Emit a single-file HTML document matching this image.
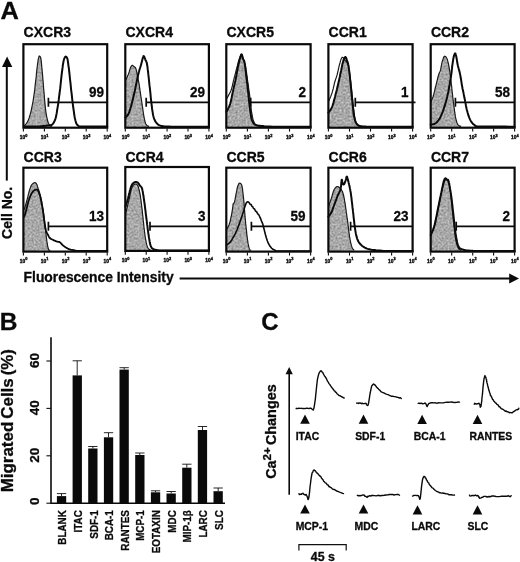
<!DOCTYPE html>
<html><head><meta charset="utf-8"><title>Figure</title>
<style>
html,body{margin:0;padding:0;background:#fff;}
body{width:520px;height:562px;overflow:hidden;}
svg{display:block;will-change:transform;font-family:"Liberation Sans", sans-serif;fill:#0a0a0a;}
text{stroke:#0a0a0a;stroke-width:0.3px;stroke-linejoin:round;}
</style></head>
<body>
<svg width="520" height="562" viewBox="0 0 520 562">
<defs>
<filter id="nz" filterUnits="userSpaceOnUse" x="0" y="0" width="520" height="300" color-interpolation-filters="sRGB">
<feTurbulence type="fractalNoise" baseFrequency="0.5" numOctaves="2" seed="11" result="t"/>
<feColorMatrix in="t" type="matrix" values="0.44 0 0 0 0.44  0.44 0 0 0 0.44  0.44 0 0 0 0.44  0 0 0 0 1" result="g"/>
<feComposite in="g" in2="SourceGraphic" operator="in"/>
</filter>
</defs>
<rect width="520" height="562" fill="#fff"/>
<g id="panelA">
<path d="M24.3 126.0 L24.7 125.5 L25.2 124.8 L25.9 124.1 L26.6 123.2 L27.2 122.2 L27.8 121.1 L28.3 120.0 L28.8 118.8 L29.3 117.4 L29.7 116.0 L30.2 114.4 L30.7 112.6 L31.2 110.6 L31.6 108.4 L32.1 106.0 L32.6 103.5 L33.1 101.0 L33.5 98.4 L33.9 95.7 L34.3 92.8 L34.7 89.9 L35.0 87.0 L35.3 84.1 L35.6 81.3 L36.0 78.5 L36.3 75.7 L36.5 72.9 L36.8 70.3 L37.1 67.8 L37.4 65.6 L37.6 63.7 L37.9 62.0 L38.1 60.4 L38.3 59.1 L38.6 58.0 L38.8 57.1 L39.0 56.5 L39.2 56.1 L39.4 56.0 L39.5 56.0 L39.7 56.2 L39.9 56.4 L40.1 56.6 L40.3 56.9 L40.5 57.2 L40.7 57.8 L40.8 58.7 L41.1 60.0 L41.3 61.7 L41.5 63.8 L41.7 66.2 L42.0 68.8 L42.2 71.5 L42.5 74.2 L42.7 76.8 L42.9 79.6 L43.2 82.5 L43.4 85.4 L43.6 88.3 L43.9 91.3 L44.2 94.3 L44.4 97.6 L44.7 100.9 L45.0 104.1 L45.3 107.1 L45.6 109.7 L45.9 112.1 L46.3 114.3 L46.6 116.3 L47.0 118.1 L47.4 119.7 L47.7 121.1 L48.1 122.3 L48.4 123.2 L48.8 123.9 L49.2 124.5 L49.5 125.0 L49.9 125.4 L50.3 125.7 L50.7 126.0 L51.1 126.1 L51.5 126.1 L51.8 126.2 L52.0 126.2 L52.0 127.7 L23.4 127.7 Z" fill="#aeaeae" stroke="none" filter="url(#nz)"/>
<path d="M24.3 126.0 L24.7 125.5 L25.2 124.8 L25.9 124.1 L26.6 123.2 L27.2 122.2 L27.8 121.1 L28.3 120.0 L28.8 118.8 L29.3 117.4 L29.7 116.0 L30.2 114.4 L30.7 112.6 L31.2 110.6 L31.6 108.4 L32.1 106.0 L32.6 103.5 L33.1 101.0 L33.5 98.4 L33.9 95.7 L34.3 92.8 L34.7 89.9 L35.0 87.0 L35.3 84.1 L35.6 81.3 L36.0 78.5 L36.3 75.7 L36.5 72.9 L36.8 70.3 L37.1 67.8 L37.4 65.6 L37.6 63.7 L37.9 62.0 L38.1 60.4 L38.3 59.1 L38.6 58.0 L38.8 57.1 L39.0 56.5 L39.2 56.1 L39.4 56.0 L39.5 56.0 L39.7 56.2 L39.9 56.4 L40.1 56.6 L40.3 56.9 L40.5 57.2 L40.7 57.8 L40.8 58.7 L41.1 60.0 L41.3 61.7 L41.5 63.8 L41.7 66.2 L42.0 68.8 L42.2 71.5 L42.5 74.2 L42.7 76.8 L42.9 79.6 L43.2 82.5 L43.4 85.4 L43.6 88.3 L43.9 91.3 L44.2 94.3 L44.4 97.6 L44.7 100.9 L45.0 104.1 L45.3 107.1 L45.6 109.7 L45.9 112.1 L46.3 114.3 L46.6 116.3 L47.0 118.1 L47.4 119.7 L47.7 121.1 L48.1 122.3 L48.4 123.2 L48.8 123.9 L49.2 124.5 L49.5 125.0 L49.9 125.4 L50.3 125.7 L50.7 126.0 L51.1 126.1 L51.5 126.1 L51.8 126.2 L52.0 126.2" fill="none" stroke="#1a1a1a" stroke-width="1.2" stroke-linejoin="round"/>
<path d="M24.3 126.5 L25.7 126.5 L27.6 126.6 L29.9 126.6 L32.4 126.6 L34.8 126.6 L37.1 126.5 L39.2 126.4 L41.5 126.2 L43.7 126.0 L45.8 125.8 L47.6 125.6 L49.2 125.4 L50.3 125.2 L51.0 125.1 L51.5 125.0 L51.9 124.8 L52.3 124.5 L52.7 124.0 L53.2 123.3 L53.7 122.6 L54.2 121.7 L54.7 120.8 L55.1 119.6 L55.6 118.3 L56.0 116.8 L56.3 115.1 L56.7 113.2 L57.0 111.2 L57.3 109.1 L57.7 106.9 L58.1 104.6 L58.4 102.1 L58.8 99.4 L59.1 96.7 L59.5 94.0 L59.8 91.3 L60.2 88.4 L60.5 85.5 L60.8 82.5 L61.1 79.6 L61.4 76.8 L61.7 74.2 L62.0 71.8 L62.3 69.5 L62.6 67.4 L62.8 65.4 L63.1 63.6 L63.4 62.1 L63.6 60.8 L63.9 59.8 L64.1 59.0 L64.3 58.4 L64.6 57.9 L64.8 57.4 L65.0 57.0 L65.3 56.8 L65.5 56.6 L65.8 56.6 L66.0 56.7 L66.2 56.8 L66.5 57.0 L66.7 57.2 L66.9 57.5 L67.1 58.0 L67.4 58.8 L67.7 60.0 L67.9 61.6 L68.2 63.7 L68.5 66.1 L68.9 68.7 L69.2 71.4 L69.5 74.2 L69.8 77.0 L70.1 80.0 L70.5 83.2 L70.8 86.4 L71.1 89.5 L71.5 92.7 L71.9 95.8 L72.2 99.1 L72.6 102.4 L73.0 105.6 L73.4 108.5 L73.8 111.2 L74.1 113.5 L74.4 115.6 L74.7 117.4 L75.1 119.1 L75.4 120.5 L75.8 121.8 L76.1 122.9 L76.5 123.7 L76.9 124.4 L77.3 124.9 L77.8 125.3 L78.3 125.7 L78.7 126.0 L78.8 126.2 L79.0 126.3 L79.5 126.4 L80.6 126.5 L82.6 126.5 L85.9 126.6 L90.5 126.6 L95.7 126.6 L100.8 126.6 L105.2 126.5 L107.3 126.5" fill="none" stroke="#0a0a0a" stroke-width="2.0" stroke-linejoin="round" stroke-linecap="round"/>
<path d="M48.4 97.8 V106.8 M48.4 102.3 H107.3" stroke="#0a0a0a" stroke-width="1.7" fill="none"/>
<rect x="23.40" y="44.20" width="83.80" height="83.50" fill="none" stroke="#0a0a0a" stroke-width="2.2"/>
<path d="M23.4 128.6 v3.0" stroke="#0a0a0a" stroke-width="1.1"/>
<text x="23.6" y="139.0" text-anchor="middle" font-size="4.9" font-weight="bold" style="stroke-width:0.35px">10<tspan dy="-2.5" font-size="3.9">0</tspan></text>
<path d="M44.4 128.6 v3.0" stroke="#0a0a0a" stroke-width="1.1"/>
<text x="44.6" y="139.0" text-anchor="middle" font-size="4.9" font-weight="bold" style="stroke-width:0.35px">10<tspan dy="-2.5" font-size="3.9">1</tspan></text>
<path d="M65.3 128.6 v3.0" stroke="#0a0a0a" stroke-width="1.1"/>
<text x="65.5" y="139.0" text-anchor="middle" font-size="4.9" font-weight="bold" style="stroke-width:0.35px">10<tspan dy="-2.5" font-size="3.9">2</tspan></text>
<path d="M86.2 128.6 v3.0" stroke="#0a0a0a" stroke-width="1.1"/>
<text x="86.5" y="139.0" text-anchor="middle" font-size="4.9" font-weight="bold" style="stroke-width:0.35px">10<tspan dy="-2.5" font-size="3.9">3</tspan></text>
<path d="M107.2 128.6 v3.0" stroke="#0a0a0a" stroke-width="1.1"/>
<text x="107.4" y="139.0" text-anchor="middle" font-size="4.9" font-weight="bold" style="stroke-width:0.35px">10<tspan dy="-2.5" font-size="3.9">4</tspan></text>
<text transform="translate(104.0 97.0) scale(0.925 1)" text-anchor="end" font-size="14.6" font-weight="bold">99</text>
<text x="23.6" y="37.4" font-size="14" font-weight="bold">CXCR3</text>
<path d="M125.4 80.6 L125.7 79.9 L126.2 78.9 L126.8 77.8 L127.4 76.6 L127.9 75.3 L128.4 74.2 L128.8 73.1 L129.2 71.9 L129.5 70.7 L129.9 69.6 L130.2 68.6 L130.5 67.8 L130.8 67.1 L131.1 66.5 L131.4 66.1 L131.7 65.7 L132.0 65.5 L132.2 65.4 L132.5 65.4 L132.9 65.6 L133.2 65.9 L133.5 66.2 L133.8 66.5 L134.1 66.8 L134.4 66.9 L134.6 67.0 L134.8 67.1 L135.1 67.2 L135.3 67.4 L135.5 67.8 L135.7 68.3 L136.0 68.9 L136.2 69.6 L136.4 70.5 L136.7 71.5 L136.9 72.8 L137.3 74.3 L137.6 76.0 L138.0 77.9 L138.3 79.9 L138.7 82.0 L139.1 84.1 L139.4 86.3 L139.8 88.7 L140.1 91.1 L140.5 93.5 L140.8 96.0 L141.2 98.4 L141.6 100.8 L141.9 103.3 L142.3 105.8 L142.7 108.2 L143.0 110.5 L143.3 112.6 L143.6 114.5 L143.9 116.3 L144.2 117.9 L144.5 119.4 L144.8 120.7 L145.0 121.8 L145.3 122.8 L145.6 123.5 L145.9 124.1 L146.3 124.6 L146.6 125.0 L146.9 125.4 L147.3 125.7 L147.7 125.9 L148.1 126.1 L148.5 126.2 L148.8 126.3 L149.0 126.4 L149.0 127.7 L125.3 127.7 Z" fill="#aeaeae" stroke="none" filter="url(#nz)"/>
<path d="M125.4 80.6 L125.7 79.9 L126.2 78.9 L126.8 77.8 L127.4 76.6 L127.9 75.3 L128.4 74.2 L128.8 73.1 L129.2 71.9 L129.5 70.7 L129.9 69.6 L130.2 68.6 L130.5 67.8 L130.8 67.1 L131.1 66.5 L131.4 66.1 L131.7 65.7 L132.0 65.5 L132.2 65.4 L132.5 65.4 L132.9 65.6 L133.2 65.9 L133.5 66.2 L133.8 66.5 L134.1 66.8 L134.4 66.9 L134.6 67.0 L134.8 67.1 L135.1 67.2 L135.3 67.4 L135.5 67.8 L135.7 68.3 L136.0 68.9 L136.2 69.6 L136.4 70.5 L136.7 71.5 L136.9 72.8 L137.3 74.3 L137.6 76.0 L138.0 77.9 L138.3 79.9 L138.7 82.0 L139.1 84.1 L139.4 86.3 L139.8 88.7 L140.1 91.1 L140.5 93.5 L140.8 96.0 L141.2 98.4 L141.6 100.8 L141.9 103.3 L142.3 105.8 L142.7 108.2 L143.0 110.5 L143.3 112.6 L143.6 114.5 L143.9 116.3 L144.2 117.9 L144.5 119.4 L144.8 120.7 L145.0 121.8 L145.3 122.8 L145.6 123.5 L145.9 124.1 L146.3 124.6 L146.6 125.0 L146.9 125.4 L147.3 125.7 L147.7 125.9 L148.1 126.1 L148.5 126.2 L148.8 126.3 L149.0 126.4" fill="none" stroke="#1a1a1a" stroke-width="1.2" stroke-linejoin="round"/>
<path d="M125.4 117.6 L125.7 117.2 L126.2 116.8 L126.7 116.3 L127.3 115.7 L127.9 114.9 L128.4 114.0 L128.9 112.9 L129.4 111.6 L129.8 110.2 L130.3 108.7 L130.8 107.1 L131.2 105.5 L131.7 103.8 L132.2 102.0 L132.7 100.1 L133.1 98.2 L133.6 96.1 L134.1 94.1 L134.6 91.9 L135.1 89.6 L135.6 87.2 L136.0 84.9 L136.5 82.6 L136.9 80.6 L137.3 78.8 L137.7 77.1 L138.0 75.6 L138.4 74.1 L138.7 72.7 L139.1 71.3 L139.4 70.0 L139.8 68.8 L140.2 67.6 L140.5 66.5 L140.9 65.4 L141.2 64.2 L141.5 63.0 L141.9 61.6 L142.2 60.3 L142.5 59.0 L142.8 57.9 L143.1 57.1 L143.3 56.6 L143.4 56.2 L143.6 56.1 L143.7 56.1 L143.9 56.2 L144.0 56.4 L144.3 56.7 L144.5 57.3 L144.7 57.9 L145.0 58.6 L145.2 59.3 L145.5 60.0 L145.7 60.5 L145.9 60.9 L146.2 61.3 L146.4 61.8 L146.7 62.5 L146.9 63.5 L147.1 64.8 L147.4 66.3 L147.6 68.0 L147.8 69.9 L148.1 72.0 L148.3 74.2 L148.6 76.7 L148.9 79.5 L149.2 82.4 L149.5 85.4 L149.9 88.4 L150.2 91.3 L150.5 94.0 L150.7 96.8 L151.0 99.5 L151.3 102.2 L151.6 104.6 L151.9 106.9 L152.1 108.9 L152.4 110.8 L152.7 112.5 L152.9 114.1 L153.2 115.5 L153.6 116.9 L153.9 118.1 L154.3 119.2 L154.7 120.1 L155.2 121.0 L155.6 121.8 L156.1 122.5 L156.7 123.2 L157.2 123.8 L157.8 124.3 L158.4 124.7 L159.0 125.1 L159.7 125.4 L160.4 125.7 L161.2 125.9 L162.0 126.0 L162.8 126.2 L163.7 126.3 L164.7 126.4 L165.4 126.5 L165.7 126.5 L166.1 126.6 L167.0 126.6 L168.8 126.6 L171.8 126.7 L176.8 126.7 L183.7 126.7 L191.4 126.7 L199.1 126.7 L205.7 126.7 L209.0 126.7" fill="none" stroke="#0a0a0a" stroke-width="2.0" stroke-linejoin="round" stroke-linecap="round"/>
<path d="M146.2 97.8 V106.8 M146.2 102.3 H209.0" stroke="#0a0a0a" stroke-width="1.7" fill="none"/>
<rect x="125.30" y="44.20" width="83.60" height="83.50" fill="none" stroke="#0a0a0a" stroke-width="2.2"/>
<path d="M125.3 128.6 v3.0" stroke="#0a0a0a" stroke-width="1.1"/>
<text x="125.5" y="139.0" text-anchor="middle" font-size="4.9" font-weight="bold" style="stroke-width:0.35px">10<tspan dy="-2.5" font-size="3.9">0</tspan></text>
<path d="M146.2 128.6 v3.0" stroke="#0a0a0a" stroke-width="1.1"/>
<text x="146.4" y="139.0" text-anchor="middle" font-size="4.9" font-weight="bold" style="stroke-width:0.35px">10<tspan dy="-2.5" font-size="3.9">1</tspan></text>
<path d="M167.1 128.6 v3.0" stroke="#0a0a0a" stroke-width="1.1"/>
<text x="167.3" y="139.0" text-anchor="middle" font-size="4.9" font-weight="bold" style="stroke-width:0.35px">10<tspan dy="-2.5" font-size="3.9">2</tspan></text>
<path d="M188.0 128.6 v3.0" stroke="#0a0a0a" stroke-width="1.1"/>
<text x="188.2" y="139.0" text-anchor="middle" font-size="4.9" font-weight="bold" style="stroke-width:0.35px">10<tspan dy="-2.5" font-size="3.9">3</tspan></text>
<path d="M208.9 128.6 v3.0" stroke="#0a0a0a" stroke-width="1.1"/>
<text x="209.1" y="139.0" text-anchor="middle" font-size="4.9" font-weight="bold" style="stroke-width:0.35px">10<tspan dy="-2.5" font-size="3.9">4</tspan></text>
<text transform="translate(205.0 97.0) scale(0.925 1)" text-anchor="end" font-size="14.6" font-weight="bold">29</text>
<text x="125.5" y="37.4" font-size="14" font-weight="bold">CXCR4</text>
<path d="M226.4 111.9 L226.8 111.1 L227.4 110.0 L228.1 108.8 L228.8 107.3 L229.5 105.7 L230.1 104.1 L230.6 102.2 L231.1 100.2 L231.6 98.0 L232.0 95.7 L232.5 93.4 L233.0 91.3 L233.4 89.1 L233.9 86.9 L234.4 84.8 L234.9 82.6 L235.4 80.5 L235.8 78.4 L236.2 76.4 L236.6 74.4 L236.9 72.4 L237.3 70.5 L237.6 68.7 L237.9 67.1 L238.3 65.5 L238.6 64.1 L238.9 62.8 L239.2 61.5 L239.5 60.3 L239.8 59.2 L240.1 58.1 L240.4 57.0 L240.7 56.0 L240.9 55.1 L241.2 54.5 L241.5 54.3 L241.7 54.4 L242.0 55.0 L242.2 55.8 L242.4 56.8 L242.7 57.7 L242.9 58.5 L243.2 59.2 L243.5 59.7 L243.8 60.2 L244.1 60.9 L244.4 61.7 L244.6 62.8 L244.9 64.2 L245.1 65.9 L245.3 67.8 L245.5 69.8 L245.8 72.0 L246.0 74.2 L246.3 76.5 L246.6 79.0 L246.9 81.7 L247.3 84.4 L247.6 87.1 L247.9 89.8 L248.2 92.7 L248.5 95.6 L248.8 98.6 L249.1 101.6 L249.4 104.4 L249.7 106.9 L250.0 109.2 L250.3 111.4 L250.6 113.3 L250.9 115.2 L251.1 116.8 L251.4 118.3 L251.8 119.5 L252.1 120.5 L252.4 121.3 L252.8 122.0 L253.1 122.7 L253.6 123.3 L254.0 123.8 L254.5 124.2 L255.0 124.6 L255.5 124.9 L256.2 125.1 L257.1 125.4 L258.3 125.6 L259.7 125.8 L261.2 126.0 L262.8 126.1 L264.3 126.3 L265.7 126.4 L266.6 126.5 L267.0 126.5 L267.4 126.6 L268.2 126.6 L269.8 126.6 L272.8 126.7 L277.8 126.7 L284.7 126.7 L292.4 126.7 L300.1 126.7 L306.7 126.7 L310.7 126.7 L310.7 127.7 L226.3 127.7 Z" fill="#aeaeae" stroke="none" filter="url(#nz)"/>
<path d="M226.4 99.1 L226.9 98.2 L227.7 96.9 L228.5 95.4 L229.4 93.8 L230.3 92.1 L231.0 90.5 L231.5 88.9 L232.0 87.1 L232.5 85.3 L232.8 83.6 L233.2 82.0 L233.5 80.6 L233.8 79.5 L234.0 78.6 L234.2 77.9 L234.4 77.2 L234.6 76.5 L234.8 75.6 L235.1 74.6 L235.4 73.4 L235.7 72.3 L236.0 71.0 L236.3 69.8 L236.7 68.5 L237.0 67.2 L237.4 65.7 L237.7 64.3 L238.1 62.8 L238.5 61.5 L238.9 60.2 L239.3 59.0 L239.8 57.7 L240.2 56.5 L240.7 55.5 L241.1 54.8 L241.5 54.6 L241.9 54.8 L242.2 55.4 L242.6 56.4 L242.9 57.6 L243.3 58.8 L243.6 60.0 L244.0 61.0 L244.3 62.1 L244.7 63.3 L245.0 64.6 L245.4 66.0 L245.8 67.8 L246.1 69.9 L246.5 72.2 L246.8 74.8 L247.2 77.4 L247.5 80.1 L247.9 82.7 L248.3 85.3 L248.6 88.0 L249.0 90.7 L249.4 93.3 L249.7 95.9 L250.0 98.4 L250.3 100.7 L250.5 102.9 L250.7 105.1 L250.9 107.2 L251.2 109.2 L251.4 111.2 L251.8 113.1 L252.1 114.9 L252.4 116.7 L252.8 118.4 L253.2 119.9 L253.6 121.1 L254.0 122.1 L254.5 123.0 L254.9 123.6 L255.4 124.1 L255.9 124.5 L256.4 125.0 L257.0 125.3 L257.7 125.6 L258.4 125.8 L259.0 126.0 L259.6 126.1 L260.0 126.2" fill="none" stroke="#1a1a1a" stroke-width="1.2" stroke-linejoin="round"/>
<path d="M226.4 111.9 L226.8 111.1 L227.4 110.0 L228.1 108.8 L228.8 107.3 L229.5 105.7 L230.1 104.1 L230.6 102.2 L231.1 100.2 L231.6 98.0 L232.0 95.7 L232.5 93.4 L233.0 91.3 L233.4 89.1 L233.9 86.9 L234.4 84.8 L234.9 82.6 L235.4 80.5 L235.8 78.4 L236.2 76.4 L236.6 74.4 L236.9 72.4 L237.3 70.5 L237.6 68.7 L237.9 67.1 L238.3 65.5 L238.6 64.1 L238.9 62.8 L239.2 61.5 L239.5 60.3 L239.8 59.2 L240.1 58.1 L240.4 57.0 L240.7 56.0 L240.9 55.1 L241.2 54.5 L241.5 54.3 L241.7 54.4 L242.0 55.0 L242.2 55.8 L242.4 56.8 L242.7 57.7 L242.9 58.5 L243.2 59.2 L243.5 59.7 L243.8 60.2 L244.1 60.9 L244.4 61.7 L244.6 62.8 L244.9 64.2 L245.1 65.9 L245.3 67.8 L245.5 69.8 L245.8 72.0 L246.0 74.2 L246.3 76.5 L246.6 79.0 L246.9 81.7 L247.3 84.4 L247.6 87.1 L247.9 89.8 L248.2 92.7 L248.5 95.6 L248.8 98.6 L249.1 101.6 L249.4 104.4 L249.7 106.9 L250.0 109.2 L250.3 111.4 L250.6 113.3 L250.9 115.2 L251.1 116.8 L251.4 118.3 L251.8 119.5 L252.1 120.5 L252.4 121.3 L252.8 122.0 L253.1 122.7 L253.6 123.3 L254.0 123.8 L254.5 124.2 L255.0 124.6 L255.5 124.9 L256.2 125.1 L257.1 125.4 L258.3 125.6 L259.7 125.8 L261.2 126.0 L262.8 126.1 L264.3 126.3 L265.7 126.4 L266.6 126.5 L267.0 126.5 L267.4 126.6 L268.2 126.6 L269.8 126.6 L272.8 126.7 L277.8 126.7 L284.7 126.7 L292.4 126.7 L300.1 126.7 L306.7 126.7 L310.7 126.7" fill="none" stroke="#0a0a0a" stroke-width="2.0" stroke-linejoin="round" stroke-linecap="round"/>
<path d="M250.7 97.8 V106.8 M250.7 102.3 H310.7" stroke="#0a0a0a" stroke-width="1.7" fill="none"/>
<rect x="226.30" y="44.20" width="84.30" height="83.50" fill="none" stroke="#0a0a0a" stroke-width="2.2"/>
<path d="M226.3 128.6 v3.0" stroke="#0a0a0a" stroke-width="1.1"/>
<text x="226.5" y="139.0" text-anchor="middle" font-size="4.9" font-weight="bold" style="stroke-width:0.35px">10<tspan dy="-2.5" font-size="3.9">0</tspan></text>
<path d="M247.4 128.6 v3.0" stroke="#0a0a0a" stroke-width="1.1"/>
<text x="247.6" y="139.0" text-anchor="middle" font-size="4.9" font-weight="bold" style="stroke-width:0.35px">10<tspan dy="-2.5" font-size="3.9">1</tspan></text>
<path d="M268.4 128.6 v3.0" stroke="#0a0a0a" stroke-width="1.1"/>
<text x="268.6" y="139.0" text-anchor="middle" font-size="4.9" font-weight="bold" style="stroke-width:0.35px">10<tspan dy="-2.5" font-size="3.9">2</tspan></text>
<path d="M289.5 128.6 v3.0" stroke="#0a0a0a" stroke-width="1.1"/>
<text x="289.7" y="139.0" text-anchor="middle" font-size="4.9" font-weight="bold" style="stroke-width:0.35px">10<tspan dy="-2.5" font-size="3.9">3</tspan></text>
<path d="M310.6 128.6 v3.0" stroke="#0a0a0a" stroke-width="1.1"/>
<text x="310.8" y="139.0" text-anchor="middle" font-size="4.9" font-weight="bold" style="stroke-width:0.35px">10<tspan dy="-2.5" font-size="3.9">4</tspan></text>
<text transform="translate(306.1 97.0) scale(0.925 1)" text-anchor="end" font-size="14.6" font-weight="bold">2</text>
<text x="226.5" y="37.4" font-size="14" font-weight="bold">CXCR5</text>
<path d="M328.4 112.6 L328.8 112.0 L329.4 111.3 L330.1 110.4 L330.8 109.3 L331.5 108.2 L332.1 106.9 L332.6 105.5 L333.1 103.9 L333.6 102.3 L334.0 100.5 L334.5 98.7 L335.0 96.9 L335.4 95.1 L335.9 93.3 L336.4 91.4 L336.9 89.5 L337.3 87.6 L337.8 85.6 L338.3 83.5 L338.8 81.3 L339.3 79.1 L339.8 76.9 L340.2 74.7 L340.6 72.8 L341.1 70.9 L341.4 69.0 L341.8 67.2 L342.1 65.6 L342.5 64.1 L342.8 62.8 L343.1 61.7 L343.3 60.9 L343.5 60.1 L343.8 59.5 L344.0 59.0 L344.2 58.5 L344.4 58.1 L344.7 57.7 L344.9 57.3 L345.2 57.1 L345.4 57.0 L345.6 57.1 L345.9 57.4 L346.1 57.9 L346.3 58.5 L346.6 59.2 L346.8 59.9 L347.0 60.7 L347.3 61.3 L347.5 62.0 L347.8 62.7 L348.0 63.5 L348.2 64.4 L348.5 65.6 L348.7 67.1 L348.9 68.9 L349.2 70.8 L349.4 72.8 L349.7 74.9 L349.9 77.0 L350.1 79.2 L350.4 81.6 L350.6 84.0 L350.8 86.4 L351.1 88.8 L351.3 91.3 L351.6 93.7 L351.8 96.1 L352.0 98.5 L352.3 100.9 L352.5 103.3 L352.7 105.5 L353.0 107.6 L353.2 109.7 L353.4 111.7 L353.6 113.5 L353.9 115.3 L354.2 116.9 L354.5 118.3 L354.8 119.5 L355.1 120.6 L355.5 121.6 L355.9 122.5 L356.3 123.3 L356.7 123.9 L357.1 124.5 L357.5 124.9 L358.0 125.2 L358.5 125.5 L359.1 125.8 L359.9 126.1 L360.8 126.2 L361.8 126.3 L362.8 126.4 L363.8 126.5 L364.8 126.5 L365.3 126.6 L365.4 126.6 L365.4 126.6 L365.9 126.7 L367.4 126.7 L370.5 126.7 L376.0 126.7 L383.6 126.7 L392.2 126.7 L400.8 126.7 L408.1 126.7 L412.7 126.7 L412.7 127.7 L328.4 127.7 Z" fill="#aeaeae" stroke="none" filter="url(#nz)"/>
<path d="M328.4 101.9 L328.8 100.9 L329.4 99.6 L330.1 98.0 L330.8 96.3 L331.5 94.4 L332.1 92.7 L332.6 90.8 L333.2 88.9 L333.6 86.8 L334.1 84.8 L334.5 82.9 L335.0 81.3 L335.4 80.0 L335.7 78.9 L336.1 78.0 L336.4 77.1 L336.7 76.1 L337.1 74.9 L337.4 73.5 L337.8 71.9 L338.2 70.3 L338.5 68.7 L338.9 67.1 L339.2 65.6 L339.6 64.3 L340.0 62.9 L340.3 61.6 L340.7 60.4 L341.0 59.3 L341.4 58.5 L341.6 58.0 L341.9 57.6 L342.1 57.3 L342.3 57.3 L342.5 57.3 L342.8 57.4 L343.1 57.6 L343.4 58.1 L343.8 58.6 L344.2 59.2 L344.6 59.8 L344.9 60.2 L345.3 60.6 L345.6 60.9 L346.0 61.2 L346.4 61.5 L346.7 61.9 L347.0 62.5 L347.4 63.2 L347.7 64.0 L348.0 64.8 L348.3 65.9 L348.6 67.1 L348.9 68.5 L349.2 70.2 L349.5 72.1 L349.8 74.3 L350.0 76.6 L350.3 78.9 L350.6 81.3 L350.9 83.8 L351.2 86.4 L351.5 89.0 L351.8 91.7 L352.0 94.4 L352.3 96.9 L352.6 99.4 L352.8 101.9 L353.1 104.4 L353.3 106.8 L353.6 109.1 L353.9 111.2 L354.1 113.1 L354.4 115.0 L354.7 116.8 L355.0 118.4 L355.3 119.8 L355.6 121.1 L356.0 122.2 L356.4 123.1 L356.9 123.9 L357.3 124.5 L357.7 125.0 L358.0 125.4" fill="none" stroke="#1a1a1a" stroke-width="1.2" stroke-linejoin="round"/>
<path d="M328.4 112.6 L328.8 112.0 L329.4 111.3 L330.1 110.4 L330.8 109.3 L331.5 108.2 L332.1 106.9 L332.6 105.5 L333.1 103.9 L333.6 102.3 L334.0 100.5 L334.5 98.7 L335.0 96.9 L335.4 95.1 L335.9 93.3 L336.4 91.4 L336.9 89.5 L337.3 87.6 L337.8 85.6 L338.3 83.5 L338.8 81.3 L339.3 79.1 L339.8 76.9 L340.2 74.7 L340.6 72.8 L341.1 70.9 L341.4 69.0 L341.8 67.2 L342.1 65.6 L342.5 64.1 L342.8 62.8 L343.1 61.7 L343.3 60.9 L343.5 60.1 L343.8 59.5 L344.0 59.0 L344.2 58.5 L344.4 58.1 L344.7 57.7 L344.9 57.3 L345.2 57.1 L345.4 57.0 L345.6 57.1 L345.9 57.4 L346.1 57.9 L346.3 58.5 L346.6 59.2 L346.8 59.9 L347.0 60.7 L347.3 61.3 L347.5 62.0 L347.8 62.7 L348.0 63.5 L348.2 64.4 L348.5 65.6 L348.7 67.1 L348.9 68.9 L349.2 70.8 L349.4 72.8 L349.7 74.9 L349.9 77.0 L350.1 79.2 L350.4 81.6 L350.6 84.0 L350.8 86.4 L351.1 88.8 L351.3 91.3 L351.6 93.7 L351.8 96.1 L352.0 98.5 L352.3 100.9 L352.5 103.3 L352.7 105.5 L353.0 107.6 L353.2 109.7 L353.4 111.7 L353.6 113.5 L353.9 115.3 L354.2 116.9 L354.5 118.3 L354.8 119.5 L355.1 120.6 L355.5 121.6 L355.9 122.5 L356.3 123.3 L356.7 123.9 L357.1 124.5 L357.5 124.9 L358.0 125.2 L358.5 125.5 L359.1 125.8 L359.9 126.1 L360.8 126.2 L361.8 126.3 L362.8 126.4 L363.8 126.5 L364.8 126.5 L365.3 126.6 L365.4 126.6 L365.4 126.6 L365.9 126.7 L367.4 126.7 L370.5 126.7 L376.0 126.7 L383.6 126.7 L392.2 126.7 L400.8 126.7 L408.1 126.7 L412.7 126.7" fill="none" stroke="#0a0a0a" stroke-width="2.0" stroke-linejoin="round" stroke-linecap="round"/>
<path d="M355.3 97.8 V106.8 M355.3 102.3 H415.5" stroke="#0a0a0a" stroke-width="1.7" fill="none"/>
<rect x="328.40" y="44.20" width="84.20" height="83.50" fill="none" stroke="#0a0a0a" stroke-width="2.2"/>
<path d="M328.4 128.6 v3.0" stroke="#0a0a0a" stroke-width="1.1"/>
<text x="328.6" y="139.0" text-anchor="middle" font-size="4.9" font-weight="bold" style="stroke-width:0.35px">10<tspan dy="-2.5" font-size="3.9">0</tspan></text>
<path d="M349.5 128.6 v3.0" stroke="#0a0a0a" stroke-width="1.1"/>
<text x="349.7" y="139.0" text-anchor="middle" font-size="4.9" font-weight="bold" style="stroke-width:0.35px">10<tspan dy="-2.5" font-size="3.9">1</tspan></text>
<path d="M370.5 128.6 v3.0" stroke="#0a0a0a" stroke-width="1.1"/>
<text x="370.7" y="139.0" text-anchor="middle" font-size="4.9" font-weight="bold" style="stroke-width:0.35px">10<tspan dy="-2.5" font-size="3.9">2</tspan></text>
<path d="M391.6 128.6 v3.0" stroke="#0a0a0a" stroke-width="1.1"/>
<text x="391.8" y="139.0" text-anchor="middle" font-size="4.9" font-weight="bold" style="stroke-width:0.35px">10<tspan dy="-2.5" font-size="3.9">3</tspan></text>
<path d="M412.6 128.6 v3.0" stroke="#0a0a0a" stroke-width="1.1"/>
<text x="412.8" y="139.0" text-anchor="middle" font-size="4.9" font-weight="bold" style="stroke-width:0.35px">10<tspan dy="-2.5" font-size="3.9">4</tspan></text>
<text transform="translate(408.6 97.0) scale(0.925 1)" text-anchor="end" font-size="14.6" font-weight="bold">1</text>
<text x="328.6" y="37.4" font-size="14" font-weight="bold">CCR1</text>
<path d="M430.7 102.6 L431.0 101.9 L431.4 100.8 L431.9 99.6 L432.4 98.3 L433.0 96.9 L433.4 95.5 L433.8 94.2 L434.1 92.9 L434.5 91.5 L434.8 90.1 L435.1 88.6 L435.5 87.0 L436.0 85.2 L436.5 83.2 L437.0 81.1 L437.5 79.1 L437.9 77.2 L438.4 75.6 L438.8 74.3 L439.2 73.3 L439.5 72.5 L439.9 71.7 L440.2 70.9 L440.5 69.9 L440.8 68.8 L441.0 67.6 L441.2 66.4 L441.5 65.1 L441.7 63.9 L441.9 62.8 L442.2 61.7 L442.5 60.6 L442.9 59.6 L443.2 58.6 L443.5 57.8 L443.8 57.1 L444.0 56.7 L444.3 56.4 L444.5 56.3 L444.7 56.2 L445.0 56.3 L445.2 56.4 L445.5 56.6 L445.8 56.8 L446.1 57.1 L446.4 57.5 L446.6 58.0 L446.9 58.5 L447.2 59.2 L447.4 59.9 L447.6 60.7 L447.9 61.5 L448.1 62.5 L448.3 63.5 L448.6 64.6 L448.8 65.8 L449.0 67.0 L449.3 68.4 L449.5 69.8 L449.8 71.3 L450.0 73.0 L450.2 74.8 L450.5 76.7 L450.7 78.7 L450.9 80.7 L451.2 82.7 L451.4 84.8 L451.7 86.9 L451.9 89.1 L452.1 91.3 L452.4 93.5 L452.6 95.5 L452.8 97.5 L453.1 99.5 L453.3 101.4 L453.6 103.3 L453.8 105.1 L454.0 106.9 L454.3 108.7 L454.5 110.5 L454.7 112.2 L455.0 113.9 L455.2 115.4 L455.4 116.9 L455.7 118.2 L456.0 119.4 L456.3 120.5 L456.6 121.6 L456.9 122.5 L457.2 123.3 L457.5 123.9 L457.8 124.4 L458.1 124.8 L458.4 125.1 L458.7 125.4 L459.0 125.7 L459.4 125.9 L459.8 126.1 L460.2 126.2 L460.6 126.3 L460.9 126.3 L461.1 126.4 L461.1 127.7 L430.7 127.7 Z" fill="#aeaeae" stroke="none" filter="url(#nz)"/>
<path d="M430.7 102.6 L431.0 101.9 L431.4 100.8 L431.9 99.6 L432.4 98.3 L433.0 96.9 L433.4 95.5 L433.8 94.2 L434.1 92.9 L434.5 91.5 L434.8 90.1 L435.1 88.6 L435.5 87.0 L436.0 85.2 L436.5 83.2 L437.0 81.1 L437.5 79.1 L437.9 77.2 L438.4 75.6 L438.8 74.3 L439.2 73.3 L439.5 72.5 L439.9 71.7 L440.2 70.9 L440.5 69.9 L440.8 68.8 L441.0 67.6 L441.2 66.4 L441.5 65.1 L441.7 63.9 L441.9 62.8 L442.2 61.7 L442.5 60.6 L442.9 59.6 L443.2 58.6 L443.5 57.8 L443.8 57.1 L444.0 56.7 L444.3 56.4 L444.5 56.3 L444.7 56.2 L445.0 56.3 L445.2 56.4 L445.5 56.6 L445.8 56.8 L446.1 57.1 L446.4 57.5 L446.6 58.0 L446.9 58.5 L447.2 59.2 L447.4 59.9 L447.6 60.7 L447.9 61.5 L448.1 62.5 L448.3 63.5 L448.6 64.6 L448.8 65.8 L449.0 67.0 L449.3 68.4 L449.5 69.8 L449.8 71.3 L450.0 73.0 L450.2 74.8 L450.5 76.7 L450.7 78.7 L450.9 80.7 L451.2 82.7 L451.4 84.8 L451.7 86.9 L451.9 89.1 L452.1 91.3 L452.4 93.5 L452.6 95.5 L452.8 97.5 L453.1 99.5 L453.3 101.4 L453.6 103.3 L453.8 105.1 L454.0 106.9 L454.3 108.7 L454.5 110.5 L454.7 112.2 L455.0 113.9 L455.2 115.4 L455.4 116.9 L455.7 118.2 L456.0 119.4 L456.3 120.5 L456.6 121.6 L456.9 122.5 L457.2 123.3 L457.5 123.9 L457.8 124.4 L458.1 124.8 L458.4 125.1 L458.7 125.4 L459.0 125.7 L459.4 125.9 L459.8 126.1 L460.2 126.2 L460.6 126.3 L460.9 126.3 L461.1 126.4" fill="none" stroke="#1a1a1a" stroke-width="1.2" stroke-linejoin="round"/>
<path d="M430.7 124.7 L431.2 124.6 L432.0 124.4 L432.8 124.3 L433.8 124.0 L434.7 123.7 L435.5 123.3 L436.3 122.7 L437.0 122.0 L437.7 121.2 L438.5 120.3 L439.1 119.4 L439.8 118.3 L440.4 117.1 L441.0 115.9 L441.6 114.5 L442.2 113.0 L442.8 111.5 L443.4 109.7 L444.0 107.9 L444.7 105.9 L445.3 103.7 L446.0 101.5 L446.6 99.2 L447.2 96.9 L447.7 94.5 L448.3 91.9 L448.8 89.3 L449.2 86.6 L449.7 84.2 L450.0 82.0 L450.4 80.1 L450.6 78.5 L450.9 77.0 L451.1 75.6 L451.3 74.2 L451.5 72.8 L451.7 71.3 L451.8 69.8 L452.0 68.4 L452.1 67.0 L452.3 65.6 L452.5 64.2 L452.7 62.9 L452.9 61.5 L453.1 60.2 L453.3 59.0 L453.5 57.8 L453.7 56.8 L454.0 55.9 L454.2 55.1 L454.5 54.4 L454.7 53.9 L454.9 53.5 L455.2 53.4 L455.4 53.5 L455.6 53.9 L455.7 54.4 L455.9 55.1 L456.1 55.9 L456.3 56.8 L456.5 57.8 L456.7 58.9 L456.9 60.1 L457.1 61.4 L457.3 62.8 L457.6 64.2 L457.9 65.7 L458.3 67.2 L458.7 68.8 L459.2 70.4 L459.6 72.1 L460.0 73.9 L460.4 75.8 L460.7 77.8 L461.1 79.8 L461.4 81.9 L461.7 83.8 L462.0 85.6 L462.3 87.1 L462.5 88.5 L462.8 89.7 L463.1 90.9 L463.3 92.1 L463.6 93.4 L463.8 94.7 L464.1 96.0 L464.3 97.3 L464.6 98.5 L464.9 99.9 L465.1 101.2 L465.4 102.6 L465.7 104.1 L465.9 105.5 L466.2 107.0 L466.5 108.4 L466.8 109.7 L467.2 111.0 L467.5 112.3 L467.9 113.5 L468.2 114.7 L468.6 115.8 L469.0 116.9 L469.3 117.8 L469.7 118.7 L470.1 119.6 L470.5 120.4 L470.9 121.1 L471.4 121.8 L471.9 122.5 L472.3 123.1 L472.9 123.7 L473.4 124.2 L474.0 124.7 L474.7 125.1 L475.0 125.4 L475.1 125.7 L475.1 125.9 L475.6 126.1 L477.0 126.3 L479.6 126.4 L484.2 126.5 L490.5 126.6 L497.7 126.6 L504.8 126.6 L511.0 126.7 L514.7 126.7" fill="none" stroke="#0a0a0a" stroke-width="2.0" stroke-linejoin="round" stroke-linecap="round"/>
<path d="M455.4 97.8 V106.8 M455.4 102.3 H514.7" stroke="#0a0a0a" stroke-width="1.7" fill="none"/>
<rect x="430.70" y="44.20" width="83.90" height="83.50" fill="none" stroke="#0a0a0a" stroke-width="2.2"/>
<path d="M430.7 128.6 v3.0" stroke="#0a0a0a" stroke-width="1.1"/>
<text x="430.9" y="139.0" text-anchor="middle" font-size="4.9" font-weight="bold" style="stroke-width:0.35px">10<tspan dy="-2.5" font-size="3.9">0</tspan></text>
<path d="M451.7 128.6 v3.0" stroke="#0a0a0a" stroke-width="1.1"/>
<text x="451.9" y="139.0" text-anchor="middle" font-size="4.9" font-weight="bold" style="stroke-width:0.35px">10<tspan dy="-2.5" font-size="3.9">1</tspan></text>
<path d="M472.7 128.6 v3.0" stroke="#0a0a0a" stroke-width="1.1"/>
<text x="472.9" y="139.0" text-anchor="middle" font-size="4.9" font-weight="bold" style="stroke-width:0.35px">10<tspan dy="-2.5" font-size="3.9">2</tspan></text>
<path d="M493.6 128.6 v3.0" stroke="#0a0a0a" stroke-width="1.1"/>
<text x="493.8" y="139.0" text-anchor="middle" font-size="4.9" font-weight="bold" style="stroke-width:0.35px">10<tspan dy="-2.5" font-size="3.9">3</tspan></text>
<path d="M514.6 128.6 v3.0" stroke="#0a0a0a" stroke-width="1.1"/>
<text x="514.8" y="139.0" text-anchor="middle" font-size="4.9" font-weight="bold" style="stroke-width:0.35px">10<tspan dy="-2.5" font-size="3.9">4</tspan></text>
<text transform="translate(509.9 97.0) scale(0.925 1)" text-anchor="end" font-size="14.6" font-weight="bold">58</text>
<text x="430.9" y="37.4" font-size="14" font-weight="bold">CCR2</text>
<path d="M24.3 209.6 L24.6 208.5 L25.0 206.9 L25.6 205.1 L26.1 203.2 L26.6 201.3 L27.1 199.6 L27.5 198.1 L27.9 196.5 L28.2 195.1 L28.6 193.7 L28.9 192.3 L29.2 191.1 L29.6 189.9 L29.9 188.8 L30.3 187.9 L30.6 186.9 L31.0 186.1 L31.4 185.4 L31.8 184.7 L32.3 184.2 L32.8 183.7 L33.3 183.3 L33.8 183.0 L34.2 182.8 L34.6 182.7 L35.0 182.7 L35.4 182.8 L35.7 183.0 L36.1 183.3 L36.4 183.7 L36.6 184.1 L36.9 184.6 L37.1 185.2 L37.3 185.9 L37.5 186.7 L37.8 187.5 L38.1 188.4 L38.4 189.3 L38.8 190.3 L39.2 191.4 L39.6 192.6 L39.9 193.9 L40.3 195.3 L40.6 196.8 L41.0 198.4 L41.3 200.1 L41.7 201.9 L42.0 203.9 L42.4 206.0 L42.8 208.4 L43.2 210.8 L43.5 213.3 L43.9 215.8 L44.2 218.1 L44.5 220.3 L44.7 222.5 L44.9 224.7 L45.2 226.8 L45.4 228.9 L45.6 230.9 L45.8 232.9 L46.1 235.0 L46.3 237.0 L46.6 238.9 L46.8 240.7 L47.0 242.3 L47.3 243.7 L47.5 245.1 L47.7 246.3 L48.0 247.4 L48.2 248.3 L48.4 249.1 L48.7 249.7 L49.1 250.0 L49.4 250.2 L49.7 250.4 L50.0 250.4 L50.2 250.5 L50.2 251.6 L23.4 251.6 Z" fill="#aeaeae" stroke="none" filter="url(#nz)"/>
<path d="M24.3 209.6 L24.6 208.5 L25.0 206.9 L25.6 205.1 L26.1 203.2 L26.6 201.3 L27.1 199.6 L27.5 198.1 L27.9 196.5 L28.2 195.1 L28.6 193.7 L28.9 192.3 L29.2 191.1 L29.6 189.9 L29.9 188.8 L30.3 187.9 L30.6 186.9 L31.0 186.1 L31.4 185.4 L31.8 184.7 L32.3 184.2 L32.8 183.7 L33.3 183.3 L33.8 183.0 L34.2 182.8 L34.6 182.7 L35.0 182.7 L35.4 182.8 L35.7 183.0 L36.1 183.3 L36.4 183.7 L36.6 184.1 L36.9 184.6 L37.1 185.2 L37.3 185.9 L37.5 186.7 L37.8 187.5 L38.1 188.4 L38.4 189.3 L38.8 190.3 L39.2 191.4 L39.6 192.6 L39.9 193.9 L40.3 195.3 L40.6 196.8 L41.0 198.4 L41.3 200.1 L41.7 201.9 L42.0 203.9 L42.4 206.0 L42.8 208.4 L43.2 210.8 L43.5 213.3 L43.9 215.8 L44.2 218.1 L44.5 220.3 L44.7 222.5 L44.9 224.7 L45.2 226.8 L45.4 228.9 L45.6 230.9 L45.8 232.9 L46.1 235.0 L46.3 237.0 L46.6 238.9 L46.8 240.7 L47.0 242.3 L47.3 243.7 L47.5 245.1 L47.7 246.3 L48.0 247.4 L48.2 248.3 L48.4 249.1 L48.7 249.7 L49.1 250.0 L49.4 250.2 L49.7 250.4 L50.0 250.4 L50.2 250.5" fill="none" stroke="#1a1a1a" stroke-width="1.2" stroke-linejoin="round"/>
<path d="M24.3 216.7 L24.5 215.9 L24.8 214.9 L25.2 213.7 L25.6 212.3 L26.0 210.9 L26.4 209.6 L26.7 208.2 L27.1 206.8 L27.4 205.3 L27.8 203.8 L28.1 202.4 L28.5 201.0 L29.0 199.7 L29.4 198.4 L29.9 197.2 L30.4 196.0 L30.9 194.9 L31.4 193.9 L31.9 193.1 L32.3 192.4 L32.8 191.7 L33.3 191.2 L33.8 190.7 L34.2 190.4 L34.7 190.0 L35.2 189.8 L35.7 189.6 L36.2 189.6 L36.7 189.6 L37.1 189.6 L37.4 189.8 L37.6 190.0 L37.8 190.3 L38.0 190.6 L38.2 191.1 L38.5 191.8 L38.8 192.5 L39.2 193.4 L39.5 194.4 L39.9 195.5 L40.3 196.8 L40.6 198.2 L41.0 199.8 L41.4 201.6 L41.7 203.5 L42.1 205.5 L42.4 207.5 L42.8 209.6 L43.1 211.7 L43.4 213.9 L43.7 216.2 L43.9 218.4 L44.2 220.5 L44.5 222.4 L44.7 224.0 L44.9 225.5 L45.2 226.8 L45.4 228.0 L45.6 229.1 L45.9 230.2 L46.2 231.1 L46.5 231.9 L46.8 232.6 L47.1 233.2 L47.4 233.8 L47.7 234.5 L48.1 235.1 L48.4 235.7 L48.7 236.4 L49.0 237.0 L49.4 237.5 L49.9 238.0 L50.4 238.5 L51.0 238.9 L51.6 239.2 L52.2 239.5 L52.8 239.8 L53.4 240.1 L54.0 240.4 L54.6 240.7 L55.3 240.9 L55.9 241.2 L56.4 241.4 L57.0 241.6 L57.5 241.7 L58.0 241.8 L58.5 241.8 L58.9 241.9 L59.4 242.0 L59.8 242.3 L60.3 242.6 L60.8 243.1 L61.3 243.6 L61.7 244.1 L62.2 244.7 L62.7 245.1 L63.1 245.5 L63.6 245.9 L64.1 246.3 L64.5 246.6 L65.0 246.9 L65.5 247.3 L66.1 247.6 L66.6 247.9 L67.2 248.2 L67.8 248.6 L68.4 248.8 L69.1 249.1 L69.8 249.3 L70.6 249.6 L71.4 249.8 L72.3 249.9 L73.2 250.1 L74.1 250.2 L74.7 250.4 L75.1 250.5 L75.4 250.6 L76.1 250.7 L77.5 250.8 L79.7 250.8 L83.5 250.9 L88.6 250.9 L94.3 250.9 L100.0 250.9 L104.8 250.9 L107.3 251.0" fill="none" stroke="#0a0a0a" stroke-width="1.8" stroke-linejoin="round" stroke-linecap="round"/>
<path d="M48.4 221.8 V230.8 M48.4 226.3 H107.3" stroke="#0a0a0a" stroke-width="1.7" fill="none"/>
<rect x="23.40" y="167.70" width="83.80" height="83.90" fill="none" stroke="#0a0a0a" stroke-width="2.2"/>
<path d="M23.4 252.5 v3.0" stroke="#0a0a0a" stroke-width="1.1"/>
<text x="23.6" y="262.9" text-anchor="middle" font-size="4.9" font-weight="bold" style="stroke-width:0.35px">10<tspan dy="-2.5" font-size="3.9">0</tspan></text>
<path d="M44.4 252.5 v3.0" stroke="#0a0a0a" stroke-width="1.1"/>
<text x="44.6" y="262.9" text-anchor="middle" font-size="4.9" font-weight="bold" style="stroke-width:0.35px">10<tspan dy="-2.5" font-size="3.9">1</tspan></text>
<path d="M65.3 252.5 v3.0" stroke="#0a0a0a" stroke-width="1.1"/>
<text x="65.5" y="262.9" text-anchor="middle" font-size="4.9" font-weight="bold" style="stroke-width:0.35px">10<tspan dy="-2.5" font-size="3.9">2</tspan></text>
<path d="M86.2 252.5 v3.0" stroke="#0a0a0a" stroke-width="1.1"/>
<text x="86.5" y="262.9" text-anchor="middle" font-size="4.9" font-weight="bold" style="stroke-width:0.35px">10<tspan dy="-2.5" font-size="3.9">3</tspan></text>
<path d="M107.2 252.5 v3.0" stroke="#0a0a0a" stroke-width="1.1"/>
<text x="107.4" y="262.9" text-anchor="middle" font-size="4.9" font-weight="bold" style="stroke-width:0.35px">10<tspan dy="-2.5" font-size="3.9">4</tspan></text>
<text transform="translate(104.0 221.0) scale(0.925 1)" text-anchor="end" font-size="14.6" font-weight="bold">13</text>
<text x="23.6" y="162.3" font-size="14" font-weight="bold">CCR3</text>
<path d="M125.4 213.8 L125.7 212.6 L126.2 210.8 L126.8 208.8 L127.4 206.6 L127.9 204.4 L128.4 202.4 L128.8 200.7 L129.2 198.9 L129.5 197.2 L129.9 195.5 L130.2 193.9 L130.5 192.5 L130.9 191.2 L131.2 189.9 L131.6 188.8 L131.9 187.8 L132.3 186.9 L132.7 186.1 L133.1 185.4 L133.6 184.9 L134.1 184.5 L134.6 184.2 L135.1 184.1 L135.5 184.0 L135.9 184.0 L136.3 184.1 L136.7 184.3 L137.0 184.6 L137.3 184.9 L137.6 185.4 L137.9 185.9 L138.2 186.5 L138.4 187.2 L138.6 187.9 L138.8 188.7 L139.1 189.6 L139.3 190.6 L139.5 191.6 L139.8 192.8 L140.0 194.0 L140.3 195.3 L140.5 196.8 L140.7 198.4 L141.0 200.2 L141.2 202.1 L141.4 204.1 L141.7 206.1 L141.9 208.1 L142.2 210.2 L142.4 212.3 L142.6 214.5 L142.9 216.6 L143.1 218.8 L143.3 220.9 L143.6 223.1 L143.8 225.3 L144.0 227.5 L144.3 229.7 L144.5 231.8 L144.8 233.7 L145.0 235.6 L145.3 237.5 L145.6 239.2 L145.9 240.9 L146.2 242.4 L146.5 243.7 L146.8 244.9 L147.1 245.9 L147.4 246.7 L147.7 247.5 L148.0 248.1 L148.3 248.7 L148.7 249.1 L149.1 249.4 L149.5 249.6 L149.9 249.8 L150.2 249.9 L150.4 250.0 L150.4 250.9 L125.3 250.9 Z" fill="#aeaeae" stroke="none" filter="url(#nz)"/>
<path d="M125.4 213.8 L125.7 212.6 L126.2 210.8 L126.8 208.8 L127.4 206.6 L127.9 204.4 L128.4 202.4 L128.8 200.7 L129.2 198.9 L129.5 197.2 L129.9 195.5 L130.2 193.9 L130.5 192.5 L130.9 191.2 L131.2 189.9 L131.6 188.8 L131.9 187.8 L132.3 186.9 L132.7 186.1 L133.1 185.4 L133.6 184.9 L134.1 184.5 L134.6 184.2 L135.1 184.1 L135.5 184.0 L135.9 184.0 L136.3 184.1 L136.7 184.3 L137.0 184.6 L137.3 184.9 L137.6 185.4 L137.9 185.9 L138.2 186.5 L138.4 187.2 L138.6 187.9 L138.8 188.7 L139.1 189.6 L139.3 190.6 L139.5 191.6 L139.8 192.8 L140.0 194.0 L140.3 195.3 L140.5 196.8 L140.7 198.4 L141.0 200.2 L141.2 202.1 L141.4 204.1 L141.7 206.1 L141.9 208.1 L142.2 210.2 L142.4 212.3 L142.6 214.5 L142.9 216.6 L143.1 218.8 L143.3 220.9 L143.6 223.1 L143.8 225.3 L144.0 227.5 L144.3 229.7 L144.5 231.8 L144.8 233.7 L145.0 235.6 L145.3 237.5 L145.6 239.2 L145.9 240.9 L146.2 242.4 L146.5 243.7 L146.8 244.9 L147.1 245.9 L147.4 246.7 L147.7 247.5 L148.0 248.1 L148.3 248.7 L148.7 249.1 L149.1 249.4 L149.5 249.6 L149.9 249.8 L150.2 249.9 L150.4 250.0" fill="none" stroke="#1a1a1a" stroke-width="1.2" stroke-linejoin="round"/>
<path d="M125.4 206.7 L125.7 206.0 L126.0 204.9 L126.4 203.7 L126.9 202.3 L127.3 201.0 L127.7 199.6 L128.1 198.2 L128.4 196.8 L128.8 195.3 L129.1 193.8 L129.5 192.4 L129.8 191.1 L130.2 189.8 L130.5 188.6 L130.8 187.5 L131.2 186.4 L131.6 185.5 L132.0 184.7 L132.4 184.0 L132.9 183.5 L133.3 183.0 L133.8 182.7 L134.3 182.5 L134.8 182.3 L135.3 182.1 L135.8 182.1 L136.3 182.1 L136.8 182.2 L137.2 182.3 L137.6 182.5 L138.0 182.9 L138.4 183.3 L138.8 183.8 L139.1 184.3 L139.4 184.9 L139.8 185.4 L140.1 185.8 L140.5 186.2 L140.9 186.5 L141.3 187.0 L141.6 187.5 L141.9 188.2 L142.2 189.1 L142.4 190.2 L142.7 191.3 L142.9 192.6 L143.1 193.9 L143.3 195.3 L143.6 196.8 L143.8 198.4 L144.0 200.0 L144.3 201.8 L144.5 203.5 L144.8 205.3 L145.0 207.1 L145.2 209.0 L145.5 210.9 L145.7 212.8 L145.9 214.8 L146.2 216.7 L146.4 218.6 L146.7 220.5 L146.9 222.5 L147.1 224.4 L147.4 226.2 L147.6 228.1 L147.8 229.8 L148.1 231.6 L148.3 233.3 L148.6 235.0 L148.8 236.5 L149.0 238.0 L149.3 239.4 L149.5 240.7 L149.7 242.0 L149.9 243.1 L150.2 244.2 L150.4 245.1 L150.7 245.9 L151.1 246.7 L151.4 247.3 L151.7 247.8 L152.1 248.3 L152.6 248.7 L153.1 249.0 L153.5 249.3 L154.1 249.5 L154.6 249.7 L155.3 249.8 L156.1 250.0 L156.7 250.1 L156.8 250.2 L157.0 250.3 L157.8 250.3 L159.7 250.4 L163.3 250.4 L169.3 250.4 L177.7 250.4 L187.2 250.4 L196.5 250.4 L204.6 250.4 L209.0 250.4" fill="none" stroke="#0a0a0a" stroke-width="2.0" stroke-linejoin="round" stroke-linecap="round"/>
<path d="M150.0 221.8 V230.8 M150.0 226.3 H209.0" stroke="#0a0a0a" stroke-width="1.7" fill="none"/>
<rect x="125.30" y="167.00" width="83.60" height="83.90" fill="none" stroke="#0a0a0a" stroke-width="2.2"/>
<path d="M125.3 251.8 v3.0" stroke="#0a0a0a" stroke-width="1.1"/>
<text x="125.5" y="262.2" text-anchor="middle" font-size="4.9" font-weight="bold" style="stroke-width:0.35px">10<tspan dy="-2.5" font-size="3.9">0</tspan></text>
<path d="M146.2 251.8 v3.0" stroke="#0a0a0a" stroke-width="1.1"/>
<text x="146.4" y="262.2" text-anchor="middle" font-size="4.9" font-weight="bold" style="stroke-width:0.35px">10<tspan dy="-2.5" font-size="3.9">1</tspan></text>
<path d="M167.1 251.8 v3.0" stroke="#0a0a0a" stroke-width="1.1"/>
<text x="167.3" y="262.2" text-anchor="middle" font-size="4.9" font-weight="bold" style="stroke-width:0.35px">10<tspan dy="-2.5" font-size="3.9">2</tspan></text>
<path d="M188.0 251.8 v3.0" stroke="#0a0a0a" stroke-width="1.1"/>
<text x="188.2" y="262.2" text-anchor="middle" font-size="4.9" font-weight="bold" style="stroke-width:0.35px">10<tspan dy="-2.5" font-size="3.9">3</tspan></text>
<path d="M208.9 251.8 v3.0" stroke="#0a0a0a" stroke-width="1.1"/>
<text x="209.1" y="262.2" text-anchor="middle" font-size="4.9" font-weight="bold" style="stroke-width:0.35px">10<tspan dy="-2.5" font-size="3.9">4</tspan></text>
<text transform="translate(205.5 221.0) scale(0.925 1)" text-anchor="end" font-size="14.6" font-weight="bold">3</text>
<text x="125.5" y="162.3" font-size="14" font-weight="bold">CCR4</text>
<path d="M226.4 230.2 L226.8 229.5 L227.2 228.5 L227.8 227.3 L228.4 226.1 L229.0 224.9 L229.4 223.8 L229.7 222.8 L230.0 221.9 L230.2 221.0 L230.4 220.1 L230.6 219.1 L230.8 218.1 L231.1 217.0 L231.3 215.8 L231.6 214.6 L231.8 213.4 L232.0 212.2 L232.2 211.0 L232.4 209.7 L232.6 208.4 L232.8 207.1 L232.9 205.8 L233.1 204.7 L233.2 203.9 L233.4 203.4 L233.6 203.2 L233.8 203.2 L234.0 203.1 L234.2 203.0 L234.4 202.4 L234.6 201.6 L234.8 200.5 L235.1 199.2 L235.3 197.9 L235.6 196.6 L235.8 195.3 L236.0 194.1 L236.3 192.9 L236.5 191.6 L236.8 190.4 L237.0 189.2 L237.2 188.2 L237.5 187.3 L237.7 186.5 L237.9 185.7 L238.2 185.0 L238.4 184.4 L238.6 184.0 L238.9 183.6 L239.1 183.4 L239.3 183.2 L239.6 183.1 L239.8 183.2 L240.1 183.2 L240.3 183.4 L240.6 183.6 L240.9 183.8 L241.2 184.2 L241.5 184.7 L241.8 185.4 L242.0 186.2 L242.2 187.2 L242.4 188.4 L242.6 189.6 L242.7 191.0 L242.9 192.5 L243.1 194.1 L243.3 195.9 L243.5 197.8 L243.7 199.8 L243.9 201.8 L244.1 203.9 L244.2 205.9 L244.4 208.0 L244.5 210.1 L244.7 212.2 L244.9 214.4 L245.0 216.7 L245.3 219.0 L245.5 221.4 L245.7 223.9 L246.0 226.3 L246.2 228.7 L246.5 230.9 L246.7 233.0 L246.9 235.1 L247.2 237.1 L247.4 239.0 L247.7 240.7 L247.9 242.3 L248.1 243.7 L248.4 244.9 L248.6 246.1 L248.8 247.1 L249.1 247.9 L249.3 248.7 L249.6 249.3 L249.9 249.7 L250.3 250.0 L250.6 250.2 L250.8 250.4 L251.0 250.5 L251.0 251.6 L226.3 251.6 Z" fill="#aeaeae" stroke="none" filter="url(#nz)"/>
<path d="M226.4 230.2 L226.8 229.5 L227.2 228.5 L227.8 227.3 L228.4 226.1 L229.0 224.9 L229.4 223.8 L229.7 222.8 L230.0 221.9 L230.2 221.0 L230.4 220.1 L230.6 219.1 L230.8 218.1 L231.1 217.0 L231.3 215.8 L231.6 214.6 L231.8 213.4 L232.0 212.2 L232.2 211.0 L232.4 209.7 L232.6 208.4 L232.8 207.1 L232.9 205.8 L233.1 204.7 L233.2 203.9 L233.4 203.4 L233.6 203.2 L233.8 203.2 L234.0 203.1 L234.2 203.0 L234.4 202.4 L234.6 201.6 L234.8 200.5 L235.1 199.2 L235.3 197.9 L235.6 196.6 L235.8 195.3 L236.0 194.1 L236.3 192.9 L236.5 191.6 L236.8 190.4 L237.0 189.2 L237.2 188.2 L237.5 187.3 L237.7 186.5 L237.9 185.7 L238.2 185.0 L238.4 184.4 L238.6 184.0 L238.9 183.6 L239.1 183.4 L239.3 183.2 L239.6 183.1 L239.8 183.2 L240.1 183.2 L240.3 183.4 L240.6 183.6 L240.9 183.8 L241.2 184.2 L241.5 184.7 L241.8 185.4 L242.0 186.2 L242.2 187.2 L242.4 188.4 L242.6 189.6 L242.7 191.0 L242.9 192.5 L243.1 194.1 L243.3 195.9 L243.5 197.8 L243.7 199.8 L243.9 201.8 L244.1 203.9 L244.2 205.9 L244.4 208.0 L244.5 210.1 L244.7 212.2 L244.9 214.4 L245.0 216.7 L245.3 219.0 L245.5 221.4 L245.7 223.9 L246.0 226.3 L246.2 228.7 L246.5 230.9 L246.7 233.0 L246.9 235.1 L247.2 237.1 L247.4 239.0 L247.7 240.7 L247.9 242.3 L248.1 243.7 L248.4 244.9 L248.6 246.1 L248.8 247.1 L249.1 247.9 L249.3 248.7 L249.6 249.3 L249.9 249.7 L250.3 250.0 L250.6 250.2 L250.8 250.4 L251.0 250.5" fill="none" stroke="#1a1a1a" stroke-width="1.2" stroke-linejoin="round"/>
<path d="M226.4 245.1 L228.0 244.1 L230.1 242.3 L231.9 239.7 L233.7 236.6 L235.4 233.3 L237.2 229.5 L239.0 224.6 L240.8 219.5 L242.3 215.0 L243.6 211.0 L244.6 207.6 L245.5 205.0 L246.1 203.3 L246.8 202.3 L247.5 201.9 L248.2 201.9 L248.8 202.3 L249.3 202.9 L249.7 203.6 L250.0 204.3 L250.6 204.4 L251.2 204.6 L251.5 205.4 L251.9 206.3 L252.4 206.6 L252.9 206.9 L253.2 207.7 L253.6 208.6 L254.1 208.8 L254.7 209.1 L255.1 210.1 L255.6 211.1 L256.1 211.5 L256.7 211.8 L257.1 212.7 L257.6 213.7 L258.1 214.2 L258.7 214.7 L259.1 215.5 L259.6 216.5 L260.0 217.5 L260.6 218.5 L261.0 219.7 L261.5 221.1 L262.1 222.3 L262.8 224.1 L263.6 227.2 L264.5 230.9 L265.4 234.5 L266.4 238.0 L267.4 241.0 L268.5 243.7 L269.9 246.0 L271.4 248.0 L273.0 249.3 L274.9 250.2 L275.7 250.7 L279.9 251.0 L295.9 251.0 L310.7 251.0" fill="none" stroke="#0a0a0a" stroke-width="1.6" stroke-linejoin="round" stroke-linecap="round"/>
<path d="M251.4 221.8 V230.8 M251.4 226.3 H310.7" stroke="#0a0a0a" stroke-width="1.7" fill="none"/>
<rect x="226.30" y="167.70" width="84.30" height="83.90" fill="none" stroke="#0a0a0a" stroke-width="2.2"/>
<path d="M226.3 252.5 v3.0" stroke="#0a0a0a" stroke-width="1.1"/>
<text x="226.5" y="262.9" text-anchor="middle" font-size="4.9" font-weight="bold" style="stroke-width:0.35px">10<tspan dy="-2.5" font-size="3.9">0</tspan></text>
<path d="M247.4 252.5 v3.0" stroke="#0a0a0a" stroke-width="1.1"/>
<text x="247.6" y="262.9" text-anchor="middle" font-size="4.9" font-weight="bold" style="stroke-width:0.35px">10<tspan dy="-2.5" font-size="3.9">1</tspan></text>
<path d="M268.4 252.5 v3.0" stroke="#0a0a0a" stroke-width="1.1"/>
<text x="268.6" y="262.9" text-anchor="middle" font-size="4.9" font-weight="bold" style="stroke-width:0.35px">10<tspan dy="-2.5" font-size="3.9">2</tspan></text>
<path d="M289.5 252.5 v3.0" stroke="#0a0a0a" stroke-width="1.1"/>
<text x="289.7" y="262.9" text-anchor="middle" font-size="4.9" font-weight="bold" style="stroke-width:0.35px">10<tspan dy="-2.5" font-size="3.9">3</tspan></text>
<path d="M310.6 252.5 v3.0" stroke="#0a0a0a" stroke-width="1.1"/>
<text x="310.8" y="262.9" text-anchor="middle" font-size="4.9" font-weight="bold" style="stroke-width:0.35px">10<tspan dy="-2.5" font-size="3.9">4</tspan></text>
<text transform="translate(305.5 221.0) scale(0.925 1)" text-anchor="end" font-size="14.6" font-weight="bold">59</text>
<text x="226.5" y="162.3" font-size="14" font-weight="bold">CCR5</text>
<path d="M328.4 206.7 L328.7 205.8 L329.2 204.5 L329.8 202.9 L330.4 201.2 L330.9 199.6 L331.4 198.2 L331.8 196.9 L332.2 195.6 L332.5 194.3 L332.9 193.1 L333.2 192.0 L333.5 191.1 L333.9 190.2 L334.2 189.5 L334.6 188.9 L335.0 188.4 L335.3 187.9 L335.7 187.5 L336.0 187.2 L336.4 186.9 L336.7 186.7 L337.1 186.6 L337.4 186.5 L337.8 186.5 L338.2 186.6 L338.5 186.9 L338.9 187.2 L339.2 187.5 L339.6 187.9 L339.9 188.2 L340.3 188.5 L340.6 188.9 L340.9 189.2 L341.2 189.5 L341.5 189.9 L341.8 190.4 L342.0 190.8 L342.3 191.3 L342.5 191.7 L342.7 192.3 L343.0 193.0 L343.2 193.9 L343.5 195.0 L343.8 196.3 L344.1 197.8 L344.4 199.3 L344.6 200.9 L344.9 202.4 L345.2 204.0 L345.4 205.7 L345.6 207.3 L345.9 209.0 L346.1 210.7 L346.3 212.4 L346.6 214.0 L346.8 215.7 L347.0 217.3 L347.3 218.9 L347.5 220.6 L347.8 222.4 L348.0 224.2 L348.2 226.2 L348.5 228.1 L348.7 230.1 L348.9 232.0 L349.2 233.7 L349.4 235.4 L349.6 236.9 L349.9 238.4 L350.1 239.7 L350.4 241.1 L350.6 242.3 L350.9 243.4 L351.1 244.5 L351.4 245.5 L351.7 246.4 L352.0 247.2 L352.3 248.0 L352.6 248.6 L353.0 249.1 L353.3 249.5 L353.7 249.9 L354.0 250.2 L354.2 250.4 L354.2 251.6 L328.4 251.6 Z" fill="#aeaeae" stroke="none" filter="url(#nz)"/>
<path d="M328.4 206.7 L328.7 205.8 L329.2 204.5 L329.8 202.9 L330.4 201.2 L330.9 199.6 L331.4 198.2 L331.8 196.9 L332.2 195.6 L332.5 194.3 L332.9 193.1 L333.2 192.0 L333.5 191.1 L333.9 190.2 L334.2 189.5 L334.6 188.9 L335.0 188.4 L335.3 187.9 L335.7 187.5 L336.0 187.2 L336.4 186.9 L336.7 186.7 L337.1 186.6 L337.4 186.5 L337.8 186.5 L338.2 186.6 L338.5 186.9 L338.9 187.2 L339.2 187.5 L339.6 187.9 L339.9 188.2 L340.3 188.5 L340.6 188.9 L340.9 189.2 L341.2 189.5 L341.5 189.9 L341.8 190.4 L342.0 190.8 L342.3 191.3 L342.5 191.7 L342.7 192.3 L343.0 193.0 L343.2 193.9 L343.5 195.0 L343.8 196.3 L344.1 197.8 L344.4 199.3 L344.6 200.9 L344.9 202.4 L345.2 204.0 L345.4 205.7 L345.6 207.3 L345.9 209.0 L346.1 210.7 L346.3 212.4 L346.6 214.0 L346.8 215.7 L347.0 217.3 L347.3 218.9 L347.5 220.6 L347.8 222.4 L348.0 224.2 L348.2 226.2 L348.5 228.1 L348.7 230.1 L348.9 232.0 L349.2 233.7 L349.4 235.4 L349.6 236.9 L349.9 238.4 L350.1 239.7 L350.4 241.1 L350.6 242.3 L350.9 243.4 L351.1 244.5 L351.4 245.5 L351.7 246.4 L352.0 247.2 L352.3 248.0 L352.6 248.6 L353.0 249.1 L353.3 249.5 L353.7 249.9 L354.0 250.2 L354.2 250.4" fill="none" stroke="#1a1a1a" stroke-width="1.2" stroke-linejoin="round"/>
<path d="M328.4 216.7 L328.7 216.2 L329.2 215.6 L329.8 214.9 L330.4 214.1 L330.9 213.2 L331.4 212.4 L331.8 211.5 L332.2 210.6 L332.5 209.7 L332.9 208.7 L333.2 207.7 L333.5 206.7 L333.9 205.8 L334.2 204.8 L334.6 203.9 L335.0 202.9 L335.3 202.0 L335.7 201.0 L336.0 200.1 L336.4 199.1 L336.7 198.1 L337.1 197.1 L337.4 196.2 L337.8 195.3 L338.2 194.5 L338.6 193.8 L338.9 193.1 L339.3 192.4 L339.6 191.8 L339.9 191.1 L340.2 190.4 L340.4 189.8 L340.5 189.1 L340.7 188.4 L340.8 187.7 L340.9 186.8 L341.1 185.6 L341.2 184.2 L341.4 182.7 L341.5 181.3 L341.6 180.2 L341.8 179.7 L341.9 179.8 L342.1 180.4 L342.2 181.4 L342.4 182.4 L342.6 183.4 L342.8 184.0 L343.0 184.2 L343.2 184.4 L343.5 184.4 L343.7 184.4 L344.0 184.2 L344.2 184.0 L344.4 183.6 L344.7 183.0 L344.9 182.4 L345.2 181.7 L345.4 181.1 L345.6 180.4 L345.8 179.7 L346.0 178.9 L346.2 178.0 L346.4 177.3 L346.6 176.8 L346.8 176.6 L347.0 176.7 L347.2 177.2 L347.4 177.9 L347.6 178.7 L347.8 179.6 L348.0 180.4 L348.3 181.2 L348.5 182.1 L348.7 183.0 L349.0 184.0 L349.2 185.0 L349.5 186.1 L349.7 187.2 L349.9 188.4 L350.2 189.6 L350.4 191.0 L350.7 192.4 L350.9 193.9 L351.1 195.6 L351.4 197.4 L351.6 199.3 L351.8 201.3 L352.1 203.3 L352.3 205.3 L352.5 207.4 L352.8 209.5 L353.0 211.7 L353.3 213.9 L353.5 216.0 L353.7 218.1 L354.0 220.1 L354.2 222.2 L354.4 224.1 L354.7 226.1 L354.9 227.8 L355.2 229.5 L355.4 230.9 L355.6 232.2 L355.8 233.4 L356.1 234.5 L356.3 235.6 L356.6 236.6 L356.9 237.6 L357.1 238.5 L357.4 239.3 L357.7 240.1 L358.1 240.8 L358.4 241.6 L358.8 242.3 L359.3 242.9 L359.7 243.5 L360.2 244.0 L360.7 244.6 L361.3 245.1 L361.9 245.7 L362.6 246.2 L363.3 246.7 L364.0 247.1 L364.8 247.6 L365.5 248.0 L366.3 248.3 L367.0 248.6 L367.8 248.9 L368.6 249.1 L369.5 249.3 L370.5 249.5 L371.7 249.7 L373.1 249.9 L374.6 250.1 L376.1 250.3 L377.6 250.4 L379.1 250.5 L380.3 250.6 L381.3 250.7 L382.3 250.8 L383.5 250.9 L385.2 250.9 L387.6 251.0 L391.2 251.0 L395.8 251.0 L400.9 251.0 L405.9 251.0 L410.2 251.0 L412.7 251.0" fill="none" stroke="#0a0a0a" stroke-width="2.0" stroke-linejoin="round" stroke-linecap="round"/>
<path d="M350.6 221.8 V230.8 M350.6 226.3 H412.7" stroke="#0a0a0a" stroke-width="1.7" fill="none"/>
<rect x="328.40" y="167.70" width="84.20" height="83.90" fill="none" stroke="#0a0a0a" stroke-width="2.2"/>
<path d="M328.4 252.5 v3.0" stroke="#0a0a0a" stroke-width="1.1"/>
<text x="328.6" y="262.9" text-anchor="middle" font-size="4.9" font-weight="bold" style="stroke-width:0.35px">10<tspan dy="-2.5" font-size="3.9">0</tspan></text>
<path d="M349.5 252.5 v3.0" stroke="#0a0a0a" stroke-width="1.1"/>
<text x="349.7" y="262.9" text-anchor="middle" font-size="4.9" font-weight="bold" style="stroke-width:0.35px">10<tspan dy="-2.5" font-size="3.9">1</tspan></text>
<path d="M370.5 252.5 v3.0" stroke="#0a0a0a" stroke-width="1.1"/>
<text x="370.7" y="262.9" text-anchor="middle" font-size="4.9" font-weight="bold" style="stroke-width:0.35px">10<tspan dy="-2.5" font-size="3.9">2</tspan></text>
<path d="M391.6 252.5 v3.0" stroke="#0a0a0a" stroke-width="1.1"/>
<text x="391.8" y="262.9" text-anchor="middle" font-size="4.9" font-weight="bold" style="stroke-width:0.35px">10<tspan dy="-2.5" font-size="3.9">3</tspan></text>
<path d="M412.6 252.5 v3.0" stroke="#0a0a0a" stroke-width="1.1"/>
<text x="412.8" y="262.9" text-anchor="middle" font-size="4.9" font-weight="bold" style="stroke-width:0.35px">10<tspan dy="-2.5" font-size="3.9">4</tspan></text>
<text transform="translate(408.5 221.0) scale(0.925 1)" text-anchor="end" font-size="14.6" font-weight="bold">23</text>
<text x="328.6" y="162.3" font-size="14" font-weight="bold">CCR6</text>
<path d="M430.7 235.2 L431.1 234.4 L431.6 233.3 L432.2 232.1 L432.9 230.6 L433.5 229.0 L434.1 227.3 L434.6 225.5 L435.1 223.5 L435.6 221.3 L436.0 219.1 L436.5 216.8 L437.0 214.5 L437.4 212.2 L437.9 209.7 L438.4 207.3 L438.9 204.8 L439.4 202.5 L439.8 200.3 L440.2 198.4 L440.6 196.6 L440.9 195.0 L441.3 193.4 L441.6 191.9 L441.9 190.4 L442.3 188.8 L442.7 187.3 L443.0 185.8 L443.4 184.5 L443.7 183.3 L444.1 182.3 L444.4 181.5 L444.7 180.9 L445.0 180.4 L445.3 180.1 L445.6 179.9 L445.9 179.7 L446.2 179.6 L446.5 179.6 L446.8 179.6 L447.1 179.8 L447.4 180.0 L447.6 180.4 L447.9 180.9 L448.1 181.4 L448.4 182.1 L448.6 182.9 L448.8 183.7 L449.0 184.7 L449.3 185.7 L449.5 186.7 L449.7 187.8 L450.0 189.1 L450.2 190.6 L450.5 192.5 L450.8 194.8 L451.1 197.5 L451.4 200.5 L451.7 203.6 L452.0 206.7 L452.3 209.6 L452.6 212.3 L452.9 215.0 L453.2 217.7 L453.5 220.3 L453.8 222.8 L454.0 225.2 L454.3 227.6 L454.5 229.9 L454.7 232.1 L455.0 234.2 L455.2 236.2 L455.4 238.0 L455.7 239.7 L456.0 241.2 L456.3 242.5 L456.6 243.7 L456.9 244.9 L457.2 245.8 L457.5 246.7 L457.8 247.3 L458.1 247.9 L458.4 248.3 L458.7 248.7 L459.0 249.1 L459.4 249.5 L459.8 249.8 L460.2 250.0 L460.6 250.2 L460.9 250.4 L461.1 250.5 L461.1 251.6 L430.7 251.6 Z" fill="#aeaeae" stroke="none" filter="url(#nz)"/>
<path d="M430.7 235.2 L431.1 234.4 L431.6 233.3 L432.2 232.1 L432.9 230.6 L433.5 229.0 L434.1 227.3 L434.6 225.5 L435.1 223.5 L435.6 221.3 L436.0 219.1 L436.5 216.8 L437.0 214.5 L437.4 212.2 L437.9 209.7 L438.4 207.3 L438.9 204.8 L439.4 202.5 L439.8 200.3 L440.2 198.4 L440.6 196.6 L440.9 195.0 L441.3 193.4 L441.6 191.9 L441.9 190.4 L442.3 188.8 L442.7 187.3 L443.0 185.8 L443.4 184.5 L443.7 183.3 L444.1 182.3 L444.4 181.5 L444.7 180.9 L445.0 180.4 L445.3 180.1 L445.6 179.9 L445.9 179.7 L446.2 179.6 L446.5 179.6 L446.8 179.6 L447.1 179.8 L447.4 180.0 L447.6 180.4 L447.9 180.9 L448.1 181.4 L448.4 182.1 L448.6 182.9 L448.8 183.7 L449.0 184.7 L449.3 185.7 L449.5 186.7 L449.7 187.8 L450.0 189.1 L450.2 190.6 L450.5 192.5 L450.8 194.8 L451.1 197.5 L451.4 200.5 L451.7 203.6 L452.0 206.7 L452.3 209.6 L452.6 212.3 L452.9 215.0 L453.2 217.7 L453.5 220.3 L453.8 222.8 L454.0 225.2 L454.3 227.6 L454.5 229.9 L454.7 232.1 L455.0 234.2 L455.2 236.2 L455.4 238.0 L455.7 239.7 L456.0 241.2 L456.3 242.5 L456.6 243.7 L456.9 244.9 L457.2 245.8 L457.5 246.7 L457.8 247.3 L458.1 247.9 L458.4 248.3 L458.7 248.7 L459.0 249.1 L459.4 249.5 L459.8 249.8 L460.2 250.0 L460.6 250.2 L460.9 250.4 L461.1 250.5" fill="none" stroke="#1a1a1a" stroke-width="1.2" stroke-linejoin="round"/>
<path d="M430.7 235.2 L431.1 234.3 L431.6 233.1 L432.2 231.7 L432.9 230.1 L433.5 228.4 L434.1 226.6 L434.6 224.8 L435.1 222.7 L435.6 220.6 L436.0 218.4 L436.5 216.1 L437.0 213.8 L437.4 211.5 L437.9 209.0 L438.4 206.5 L438.9 204.1 L439.4 201.7 L439.8 199.6 L440.2 197.7 L440.6 195.9 L440.9 194.3 L441.3 192.7 L441.6 191.2 L441.9 189.6 L442.3 188.1 L442.6 186.5 L442.9 184.9 L443.2 183.5 L443.5 182.2 L443.8 181.1 L444.1 180.3 L444.4 179.6 L444.7 179.1 L444.9 178.7 L445.2 178.4 L445.5 178.3 L445.7 178.3 L446.0 178.5 L446.2 178.8 L446.5 179.1 L446.7 179.4 L446.9 179.7 L447.2 179.8 L447.4 179.8 L447.6 179.7 L447.9 179.8 L448.1 180.0 L448.3 180.4 L448.6 181.1 L448.8 181.9 L449.0 182.9 L449.3 184.1 L449.5 185.4 L449.8 186.8 L450.0 188.4 L450.3 190.1 L450.6 191.9 L450.9 193.9 L451.2 196.0 L451.5 198.2 L451.8 200.5 L452.1 203.1 L452.4 205.7 L452.7 208.5 L453.0 211.2 L453.3 213.8 L453.6 216.5 L453.9 219.3 L454.2 222.0 L454.5 224.7 L454.7 227.2 L455.0 229.5 L455.3 231.5 L455.5 233.3 L455.8 235.0 L456.1 236.6 L456.3 238.0 L456.6 239.4 L456.9 240.7 L457.1 242.0 L457.4 243.1 L457.7 244.1 L458.0 245.0 L458.3 245.8 L458.6 246.5 L458.9 247.1 L459.2 247.6 L459.5 248.0 L459.9 248.3 L460.4 248.7 L461.1 249.0 L461.8 249.3 L462.6 249.6 L463.5 249.8 L464.4 250.1 L465.4 250.2 L466.5 250.4 L467.6 250.5 L468.7 250.6 L470.0 250.7 L471.2 250.8 L472.5 250.8 L473.6 250.9 L474.3 250.9 L475.1 250.9 L476.3 250.9 L478.1 250.9 L481.1 251.0 L485.7 251.0 L491.8 251.0 L498.7 251.0 L505.4 251.0 L511.2 251.0 L514.7 251.0" fill="none" stroke="#0a0a0a" stroke-width="2.0" stroke-linejoin="round" stroke-linecap="round"/>
<path d="M456.2 221.8 V230.8 M456.2 226.3 H514.7" stroke="#0a0a0a" stroke-width="1.7" fill="none"/>
<rect x="430.70" y="167.70" width="83.90" height="83.90" fill="none" stroke="#0a0a0a" stroke-width="2.2"/>
<path d="M430.7 252.5 v3.0" stroke="#0a0a0a" stroke-width="1.1"/>
<text x="430.9" y="262.9" text-anchor="middle" font-size="4.9" font-weight="bold" style="stroke-width:0.35px">10<tspan dy="-2.5" font-size="3.9">0</tspan></text>
<path d="M451.7 252.5 v3.0" stroke="#0a0a0a" stroke-width="1.1"/>
<text x="451.9" y="262.9" text-anchor="middle" font-size="4.9" font-weight="bold" style="stroke-width:0.35px">10<tspan dy="-2.5" font-size="3.9">1</tspan></text>
<path d="M472.7 252.5 v3.0" stroke="#0a0a0a" stroke-width="1.1"/>
<text x="472.9" y="262.9" text-anchor="middle" font-size="4.9" font-weight="bold" style="stroke-width:0.35px">10<tspan dy="-2.5" font-size="3.9">2</tspan></text>
<path d="M493.6 252.5 v3.0" stroke="#0a0a0a" stroke-width="1.1"/>
<text x="493.8" y="262.9" text-anchor="middle" font-size="4.9" font-weight="bold" style="stroke-width:0.35px">10<tspan dy="-2.5" font-size="3.9">3</tspan></text>
<path d="M514.6 252.5 v3.0" stroke="#0a0a0a" stroke-width="1.1"/>
<text x="514.8" y="262.9" text-anchor="middle" font-size="4.9" font-weight="bold" style="stroke-width:0.35px">10<tspan dy="-2.5" font-size="3.9">4</tspan></text>
<text transform="translate(510.1 221.0) scale(0.925 1)" text-anchor="end" font-size="14.6" font-weight="bold">2</text>
<text x="430.9" y="162.3" font-size="14" font-weight="bold">CCR7</text>
</g>
<text transform="translate(0.5 19.0) scale(1.09 1)" font-size="23.3" font-weight="bold">A</text>
<path d="M6.8 180.6 V64" stroke="#0a0a0a" stroke-width="2.0" fill="none"/>
<path d="M7.1 56.5 L12.3 67 L2.0 67 Z" fill="#0a0a0a"/>
<text transform="translate(12.1 238.9) rotate(-90)" font-size="14" font-weight="bold">Cell No.</text>
<text x="23.6" y="282.1" font-size="13.85" font-weight="bold">Fluorescence Intensity</text>
<path d="M179.6 278.5 H510" stroke="#0a0a0a" stroke-width="2.0" fill="none"/>
<path d="M519 278.5 L509.2 273.5 L509.2 283.5 Z" fill="#0a0a0a"/>
<text x="-0.3" y="329.8" font-size="24.5" font-weight="bold">B</text>
<path d="M51.0 337.2 V503.2 H225" stroke="#0a0a0a" stroke-width="1.6" fill="none"/>
<path d="M46.4 503.2 H51.0" stroke="#111" stroke-width="1.1"/>
<text transform="translate(38.7 501.2) rotate(-90)" text-anchor="middle" font-size="13.5" font-weight="bold">0</text>
<path d="M46.4 455.8 H51.0" stroke="#111" stroke-width="1.1"/>
<text transform="translate(38.7 455.2) rotate(-90)" text-anchor="middle" font-size="13.5" font-weight="bold">20</text>
<path d="M46.4 408.4 H51.0" stroke="#111" stroke-width="1.1"/>
<text transform="translate(38.7 407.8) rotate(-90)" text-anchor="middle" font-size="13.5" font-weight="bold">40</text>
<path d="M46.4 361.0 H51.0" stroke="#111" stroke-width="1.1"/>
<text transform="translate(38.7 360.4) rotate(-90)" text-anchor="middle" font-size="13.5" font-weight="bold">60</text>
<rect x="56.9" y="496.1" width="9.3" height="7.1" fill="#0a0a0a"/>
<path d="M61.5 496.1 V493.6 M56.9 493.6 H66.2" stroke="#111" stroke-width="0.9" fill="none"/>
<text transform="translate(66.1 510.2) rotate(-90) scale(0.905 1)" text-anchor="end" font-size="10.9" font-weight="bold">BLANK</text>
<rect x="72.6" y="375.4" width="9.3" height="127.8" fill="#0a0a0a"/>
<path d="M77.2 375.4 V360.8 M72.6 360.8 H81.9" stroke="#111" stroke-width="0.9" fill="none"/>
<text transform="translate(81.8 510.2) rotate(-90) scale(0.905 1)" text-anchor="end" font-size="10.9" font-weight="bold">ITAC</text>
<rect x="88.2" y="448.5" width="9.3" height="54.7" fill="#0a0a0a"/>
<path d="M92.9 448.5 V446.5 M88.2 446.5 H97.5" stroke="#111" stroke-width="0.9" fill="none"/>
<text transform="translate(97.5 510.2) rotate(-90) scale(0.905 1)" text-anchor="end" font-size="10.9" font-weight="bold">SDF-1</text>
<rect x="103.9" y="437.3" width="9.3" height="65.9" fill="#0a0a0a"/>
<path d="M108.5 437.3 V432.7 M103.9 432.7 H113.2" stroke="#111" stroke-width="0.9" fill="none"/>
<text transform="translate(113.1 510.2) rotate(-90) scale(0.905 1)" text-anchor="end" font-size="10.9" font-weight="bold">BCA-1</text>
<rect x="119.5" y="369.6" width="9.3" height="133.6" fill="#0a0a0a"/>
<path d="M124.2 369.6 V367.7 M119.5 367.7 H128.8" stroke="#111" stroke-width="0.9" fill="none"/>
<text transform="translate(128.8 510.2) rotate(-90) scale(0.905 1)" text-anchor="end" font-size="10.9" font-weight="bold">RANTES</text>
<rect x="135.2" y="455.0" width="9.3" height="48.2" fill="#0a0a0a"/>
<path d="M139.8 455.0 V453.0 M135.2 453.0 H144.5" stroke="#111" stroke-width="0.9" fill="none"/>
<text transform="translate(144.4 510.2) rotate(-90) scale(0.905 1)" text-anchor="end" font-size="10.9" font-weight="bold">MCP-1</text>
<rect x="150.9" y="492.3" width="9.3" height="10.9" fill="#0a0a0a"/>
<path d="M155.5 492.3 V490.8 M150.9 490.8 H160.2" stroke="#111" stroke-width="0.9" fill="none"/>
<text transform="translate(160.1 510.2) rotate(-90) scale(0.905 1)" text-anchor="end" font-size="10.9" font-weight="bold">EOTAXIN</text>
<rect x="166.5" y="493.5" width="9.3" height="9.7" fill="#0a0a0a"/>
<path d="M171.2 493.5 V491.5 M166.5 491.5 H175.8" stroke="#111" stroke-width="0.9" fill="none"/>
<text transform="translate(175.8 510.2) rotate(-90) scale(0.905 1)" text-anchor="end" font-size="10.9" font-weight="bold">MDC</text>
<rect x="182.2" y="467.7" width="9.3" height="35.5" fill="#0a0a0a"/>
<path d="M186.8 467.7 V464.2 M182.2 464.2 H191.5" stroke="#111" stroke-width="0.9" fill="none"/>
<text transform="translate(191.4 510.2) rotate(-90) scale(0.905 1)" text-anchor="end" font-size="10.9" font-weight="bold">MIP-1β</text>
<rect x="197.8" y="430.0" width="9.3" height="73.2" fill="#0a0a0a"/>
<path d="M202.5 430.0 V426.5 M197.8 426.5 H207.1" stroke="#111" stroke-width="0.9" fill="none"/>
<text transform="translate(207.1 510.2) rotate(-90) scale(0.905 1)" text-anchor="end" font-size="10.9" font-weight="bold">LARC</text>
<rect x="213.5" y="491.2" width="9.3" height="12.0" fill="#0a0a0a"/>
<path d="M218.2 491.2 V488.0 M213.5 488.0 H222.8" stroke="#111" stroke-width="0.9" fill="none"/>
<text transform="translate(222.8 510.2) rotate(-90) scale(0.905 1)" text-anchor="end" font-size="10.9" font-weight="bold">SLC</text>
<text transform="translate(13.2 492.3) rotate(-90)" font-size="16.95" font-weight="bold" word-spacing="-1.75">Migrated Cells (%)</text>
<text x="261.2" y="330.2" font-size="24.1" font-weight="bold">C</text>
<path d="M289.2 494.8 V373" stroke="#0a0a0a" stroke-width="1.6" fill="none"/>
<path d="M289.2 367 L292.8 374.2 L285.6 374.2 Z" fill="#0a0a0a"/>
<text transform="translate(275.8 478.8) rotate(-90)" font-size="14.4" font-weight="bold">Ca<tspan dy="-4.6" font-size="11.6">2+</tspan><tspan dy="4.6" dx="-1.9"> Changes</tspan></text>
<path d="M296.2 408.5 L296.9 408.3 L297.8 408.6 L298.9 408.2 L300.0 408.4 L301.0 408.4 L302.0 408.3 L303.0 408.7 L304.0 408.4 L305.0 408.6 L306.0 408.3 L307.0 408.2 L308.0 408.4 L309.0 408.6 L309.9 408.1 L310.8 408.2 L311.5 408.6 L312.1 409.2 L312.5 409.5 L312.9 409.8 L313.3 410.1 L313.6 408.9 L313.9 408.3 L314.2 406.6 L314.5 404.8 L314.8 402.6 L315.2 400.1 L315.5 397.6 L315.8 394.4 L316.1 391.7 L316.4 388.7 L316.7 385.6 L317.0 383.0 L317.3 380.5 L317.6 378.5 L318.0 376.8 L318.3 375.6 L318.7 374.2 L319.1 373.1 L319.4 372.5 L319.8 371.8 L320.1 371.2 L320.4 371.3 L320.7 371.1 L321.0 370.8 L321.4 371.2 L321.7 371.4 L322.1 372.0 L322.5 372.3 L322.9 372.6 L323.2 373.7 L323.6 374.0 L324.0 375.0 L324.5 375.9 L325.0 376.4 L325.6 377.5 L326.2 378.2 L326.9 379.7 L327.5 381.1 L328.3 382.2 L329.0 383.6 L329.7 384.4 L330.5 385.7 L331.2 386.7 L332.0 387.7 L332.8 388.6 L333.5 389.8 L334.3 390.7 L335.0 391.3 L335.7 392.2 L336.3 392.6 L337.0 393.7 L337.7 394.3 L338.5 395.1 L339.3 395.6 L340.2 395.8 L341.0 396.3 L341.9 397.0 L342.8 397.2 L343.6 397.9 L344.2 398.0" fill="none" stroke="#0a0a0a" stroke-width="1.4" stroke-linejoin="round" stroke-linecap="round"/>
<path d="M356.6 403.1 L357.2 403.0 L358.1 403.5 L359.1 403.0 L360.0 403.0 L360.8 403.2 L361.6 403.7 L362.3 403.2 L363.0 403.6 L363.7 403.6 L364.3 403.6 L364.9 403.4 L365.4 403.5 L365.8 403.3 L366.2 403.7 L366.5 404.0 L366.8 404.8 L367.1 405.3 L367.3 405.2 L367.6 405.6 L367.8 405.6 L368.0 405.1 L368.3 404.5 L368.5 403.4 L368.8 401.8 L369.1 399.9 L369.4 398.1 L369.7 395.9 L370.0 394.0 L370.3 392.5 L370.7 390.6 L371.0 388.8 L371.3 387.6 L371.6 386.6 L371.9 385.5 L372.2 385.5 L372.5 385.0 L372.8 384.7 L373.0 384.5 L373.2 384.1 L373.5 384.1 L373.8 384.0 L374.2 384.7 L374.6 384.6 L375.0 385.0 L375.5 385.6 L376.0 386.2 L376.5 387.1 L377.0 387.5 L377.5 388.0 L378.0 388.6 L378.5 389.1 L379.2 389.9 L380.0 390.3 L380.9 391.7 L381.9 392.2 L383.0 392.6 L384.3 393.2 L385.6 393.9 L387.1 394.4 L388.5 394.7 L389.9 395.7 L391.3 396.2 L392.7 396.2 L394.0 396.6 L395.1 396.6 L396.1 396.9 L397.1 397.3 L398.0 397.4 L399.0 398.0 L399.9 397.8 L400.7 397.8 L401.3 398.6" fill="none" stroke="#0a0a0a" stroke-width="1.4" stroke-linejoin="round" stroke-linecap="round"/>
<path d="M418.2 403.3 L418.9 403.1 L419.9 403.5 L421.0 403.1 L422.0 403.5 L422.8 403.8 L423.7 403.6 L424.4 403.3 L425.0 403.0 L425.4 403.3 L425.7 403.4 L426.0 404.3 L426.2 404.5 L426.4 405.2 L426.6 405.5 L426.8 406.0 L427.0 406.6 L427.2 406.6 L427.4 405.9 L427.7 405.3 L428.0 404.8 L428.4 404.3 L428.8 403.5 L429.3 403.4 L430.0 403.1 L431.0 402.7 L432.3 402.7 L433.7 402.9 L435.0 402.8 L436.2 403.1 L437.4 403.2 L438.6 402.6 L440.0 402.9 L441.6 402.9 L443.4 402.9 L445.3 402.4 L447.0 402.3 L448.6 402.2 L450.0 402.1 L451.5 402.0 L453.0 402.3 L454.7 402.5 L456.6 402.4 L458.3 402.0 L459.5 402.1" fill="none" stroke="#0a0a0a" stroke-width="1.4" stroke-linejoin="round" stroke-linecap="round"/>
<path d="M474.2 404.2 L474.7 403.2 L475.4 403.8 L476.3 404.0 L477.0 403.8 L477.7 403.8 L478.4 403.5 L479.0 403.2 L479.5 404.2 L479.9 404.5 L480.1 406.1 L480.3 407.2 L480.5 406.9 L480.7 406.5 L481.0 406.4 L481.2 404.9 L481.5 402.6 L481.8 400.3 L482.0 397.5 L482.3 395.4 L482.6 392.4 L482.9 388.7 L483.1 386.5 L483.4 383.9 L483.7 381.2 L484.0 379.0 L484.3 377.8 L484.7 376.3 L485.0 375.6 L485.3 376.8 L485.6 376.9 L485.9 377.6 L486.2 379.0 L486.5 379.6 L486.7 381.5 L487.0 382.9 L487.3 383.7 L487.6 385.2 L488.0 386.8 L488.4 388.2 L488.8 390.1 L489.2 391.1 L489.6 392.5 L490.0 393.4 L490.5 395.5 L491.0 395.9 L491.5 396.9 L492.0 398.0 L492.5 399.3 L493.1 399.6 L493.7 401.1 L494.4 401.5 L495.0 402.3 L495.6 403.1 L496.2 403.1 L496.8 404.3 L497.5 404.6 L498.2 405.1 L499.0 406.8 L499.7 406.7 L500.5 407.8 L501.3 408.7 L502.1 409.0 L502.9 409.3 L503.8 410.0 L504.6 410.6 L505.4 411.3 L506.2 411.0 L507.0 411.9 L507.8 411.8 L508.5 412.0 L509.3 412.8 L510.0 412.5 L510.8 412.6 L511.6 412.7 L512.3 412.7 L513.0 411.9 L513.6 411.8 L514.0 411.4 L514.5 411.0 L515.0 410.8 L515.6 410.2 L516.3 409.9 L516.9 409.6 L517.5 409.8 L517.9 409.3 L518.3 409.3 L518.6 409.2 L518.8 408.3" fill="none" stroke="#0a0a0a" stroke-width="1.4" stroke-linejoin="round" stroke-linecap="round"/>
<path d="M298.9 493.8 L299.3 494.3 L299.8 494.5 L300.4 494.2 L301.0 494.3 L301.5 494.4 L302.0 493.7 L302.5 493.5 L303.0 493.3 L303.5 493.9 L304.0 494.4 L304.5 494.8 L305.0 494.5 L305.4 495.0 L305.8 494.9 L306.2 494.5 L306.5 495.3 L306.8 495.9 L307.0 495.9 L307.3 497.2 L307.5 497.4 L307.7 498.2 L307.9 499.3 L308.1 499.6 L308.3 499.1 L308.5 498.8 L308.7 498.0 L309.0 496.5 L309.2 494.8 L309.5 492.7 L309.7 490.5 L310.0 487.2 L310.3 485.0 L310.6 482.5 L310.9 479.8 L311.2 477.8 L311.5 476.1 L311.8 474.5 L312.1 472.9 L312.5 472.7 L312.8 471.7 L313.1 471.3 L313.5 470.2 L313.8 470.2 L314.2 469.9 L314.6 470.6 L314.9 470.5 L315.4 470.8 L315.8 471.5 L316.3 472.4 L316.9 473.0 L317.4 473.2 L318.0 473.7 L318.6 474.9 L319.2 475.2 L319.8 476.0 L320.4 476.2 L321.0 477.0 L321.6 478.3 L322.3 479.0 L323.0 479.7 L323.7 481.2 L324.5 481.9 L325.3 482.9 L326.2 483.2 L327.1 484.7 L328.0 485.0 L329.0 486.5 L330.0 487.0 L331.0 487.6 L332.0 488.5 L333.1 489.4 L334.2 489.5 L335.4 490.1 L336.6 491.0 L337.8 491.4 L339.0 491.9 L340.3 492.4 L341.6 492.8 L342.7 493.3 L343.5 493.6" fill="none" stroke="#0a0a0a" stroke-width="1.4" stroke-linejoin="round" stroke-linecap="round"/>
<path d="M357.3 495.3 L358.0 495.8 L359.0 495.5 L360.0 495.8 L361.0 495.5 L361.8 495.5 L362.6 495.0 L363.3 495.1 L364.0 494.9 L364.7 496.0 L365.3 496.3 L365.9 496.4 L366.5 497.0 L367.1 497.4 L367.7 496.2 L368.3 496.6 L369.0 495.9 L369.8 495.8 L370.7 496.0 L371.8 495.5 L373.0 495.5 L374.5 495.6 L376.2 495.9 L378.1 495.3 L380.0 495.7 L382.0 495.5 L384.1 495.3 L386.1 495.0 L388.0 494.8 L389.7 494.5 L391.2 494.5 L392.6 494.4 L394.0 495.0 L395.5 494.6 L397.1 494.5 L398.5 494.5 L399.5 495.2" fill="none" stroke="#0a0a0a" stroke-width="1.4" stroke-linejoin="round" stroke-linecap="round"/>
<path d="M412.5 496.1 L413.0 495.9 L413.8 495.5 L414.7 495.4 L415.5 495.4 L416.3 495.6 L417.1 495.3 L417.9 495.6 L418.5 495.7 L418.9 496.7 L419.1 497.3 L419.2 497.5 L419.4 497.8 L419.6 498.9 L419.7 499.0 L419.8 499.4 L420.0 499.0 L420.2 498.5 L420.4 497.3 L420.6 495.8 L420.8 493.8 L421.0 491.9 L421.3 489.1 L421.5 486.9 L421.8 484.7 L422.0 483.1 L422.3 481.2 L422.5 479.8 L422.8 478.8 L423.1 477.8 L423.5 477.2 L423.8 476.5 L424.2 476.4 L424.5 476.4 L424.9 476.9 L425.2 477.6 L425.6 477.9 L426.0 478.6 L426.5 480.0 L427.0 480.3 L427.5 481.7 L428.1 482.5 L428.7 482.9 L429.3 484.4 L430.0 485.3 L430.7 486.0 L431.5 487.0 L432.2 487.9 L433.0 488.1 L433.8 489.1 L434.5 489.7 L435.4 490.5 L436.2 491.0 L437.1 491.6 L438.0 491.8 L439.0 492.5 L440.0 492.7 L441.2 493.1 L442.4 493.0 L443.7 493.2 L445.0 493.5 L446.3 493.9 L447.5 493.9 L448.8 494.7 L450.0 494.6 L451.3 494.8 L452.6 495.0 L453.7 495.1 L454.5 495.0" fill="none" stroke="#0a0a0a" stroke-width="1.4" stroke-linejoin="round" stroke-linecap="round"/>
<path d="M469.5 495.2 L470.1 496.1 L471.0 495.9 L472.0 495.5 L473.0 495.5 L474.1 495.7 L475.4 495.0 L476.6 495.9 L477.5 495.5 L478.1 495.6 L478.5 496.2 L478.7 497.1 L479.0 496.8 L479.3 497.8 L479.5 498.4 L479.7 498.1 L480.0 498.1 L480.4 498.1 L480.8 498.0 L481.3 497.8 L482.0 497.3 L482.8 497.2 L483.8 496.4 L484.8 496.4 L486.0 496.5 L487.4 497.0 L488.9 496.5 L490.5 496.7 L492.0 496.0 L493.5 496.0 L494.9 496.2 L496.4 496.6 L498.0 496.6 L499.7 496.6 L501.5 496.1 L503.3 496.3 L505.0 496.3 L506.8 496.2 L508.5 495.8 L510.1 496.7 L511.2 495.8" fill="none" stroke="#0a0a0a" stroke-width="1.4" stroke-linejoin="round" stroke-linecap="round"/>
<path d="M305.0 414.5 L309.8 423.7 L300.2 423.7 Z" fill="#0a0a0a"/>
<text x="295.7" y="439.6" font-size="10.4" font-weight="bold">ITAC</text>
<path d="M363.5 414.5 L368.3 423.7 L358.7 423.7 Z" fill="#0a0a0a"/>
<text x="355.2" y="439.6" font-size="10.4" font-weight="bold">SDF-1</text>
<path d="M422.1 414.8 L426.9 424.0 L417.3 424.0 Z" fill="#0a0a0a"/>
<text x="413.7" y="439.9" font-size="10.4" font-weight="bold">BCA-1</text>
<path d="M477.5 414.8 L482.3 424.0 L472.7 424.0 Z" fill="#0a0a0a"/>
<text x="469.5" y="439.9" font-size="10.4" font-weight="bold">RANTES</text>
<path d="M305.0 504.4 L309.8 513.6 L300.2 513.6 Z" fill="#0a0a0a"/>
<text x="295.7" y="529.5" font-size="10.4" font-weight="bold">MCP-1</text>
<path d="M363.5 504.4 L368.3 513.6 L358.7 513.6 Z" fill="#0a0a0a"/>
<text x="354.5" y="529.5" font-size="10.4" font-weight="bold">MDC</text>
<path d="M417.5 505.2 L422.3 514.4 L412.7 514.4 Z" fill="#0a0a0a"/>
<text x="411.5" y="530.3" font-size="10.4" font-weight="bold">LARC</text>
<path d="M477.5 505.2 L482.3 514.4 L472.7 514.4 Z" fill="#0a0a0a"/>
<text x="467.5" y="530.3" font-size="10.4" font-weight="bold">SLC</text>
<path d="M298.9 550.4 V544.6 H346.2 V550.4" stroke="#111" stroke-width="1.2" fill="none"/>
<text x="310.8" y="561" font-size="12.4" font-weight="bold">45 s</text>
</svg>
</body></html>
